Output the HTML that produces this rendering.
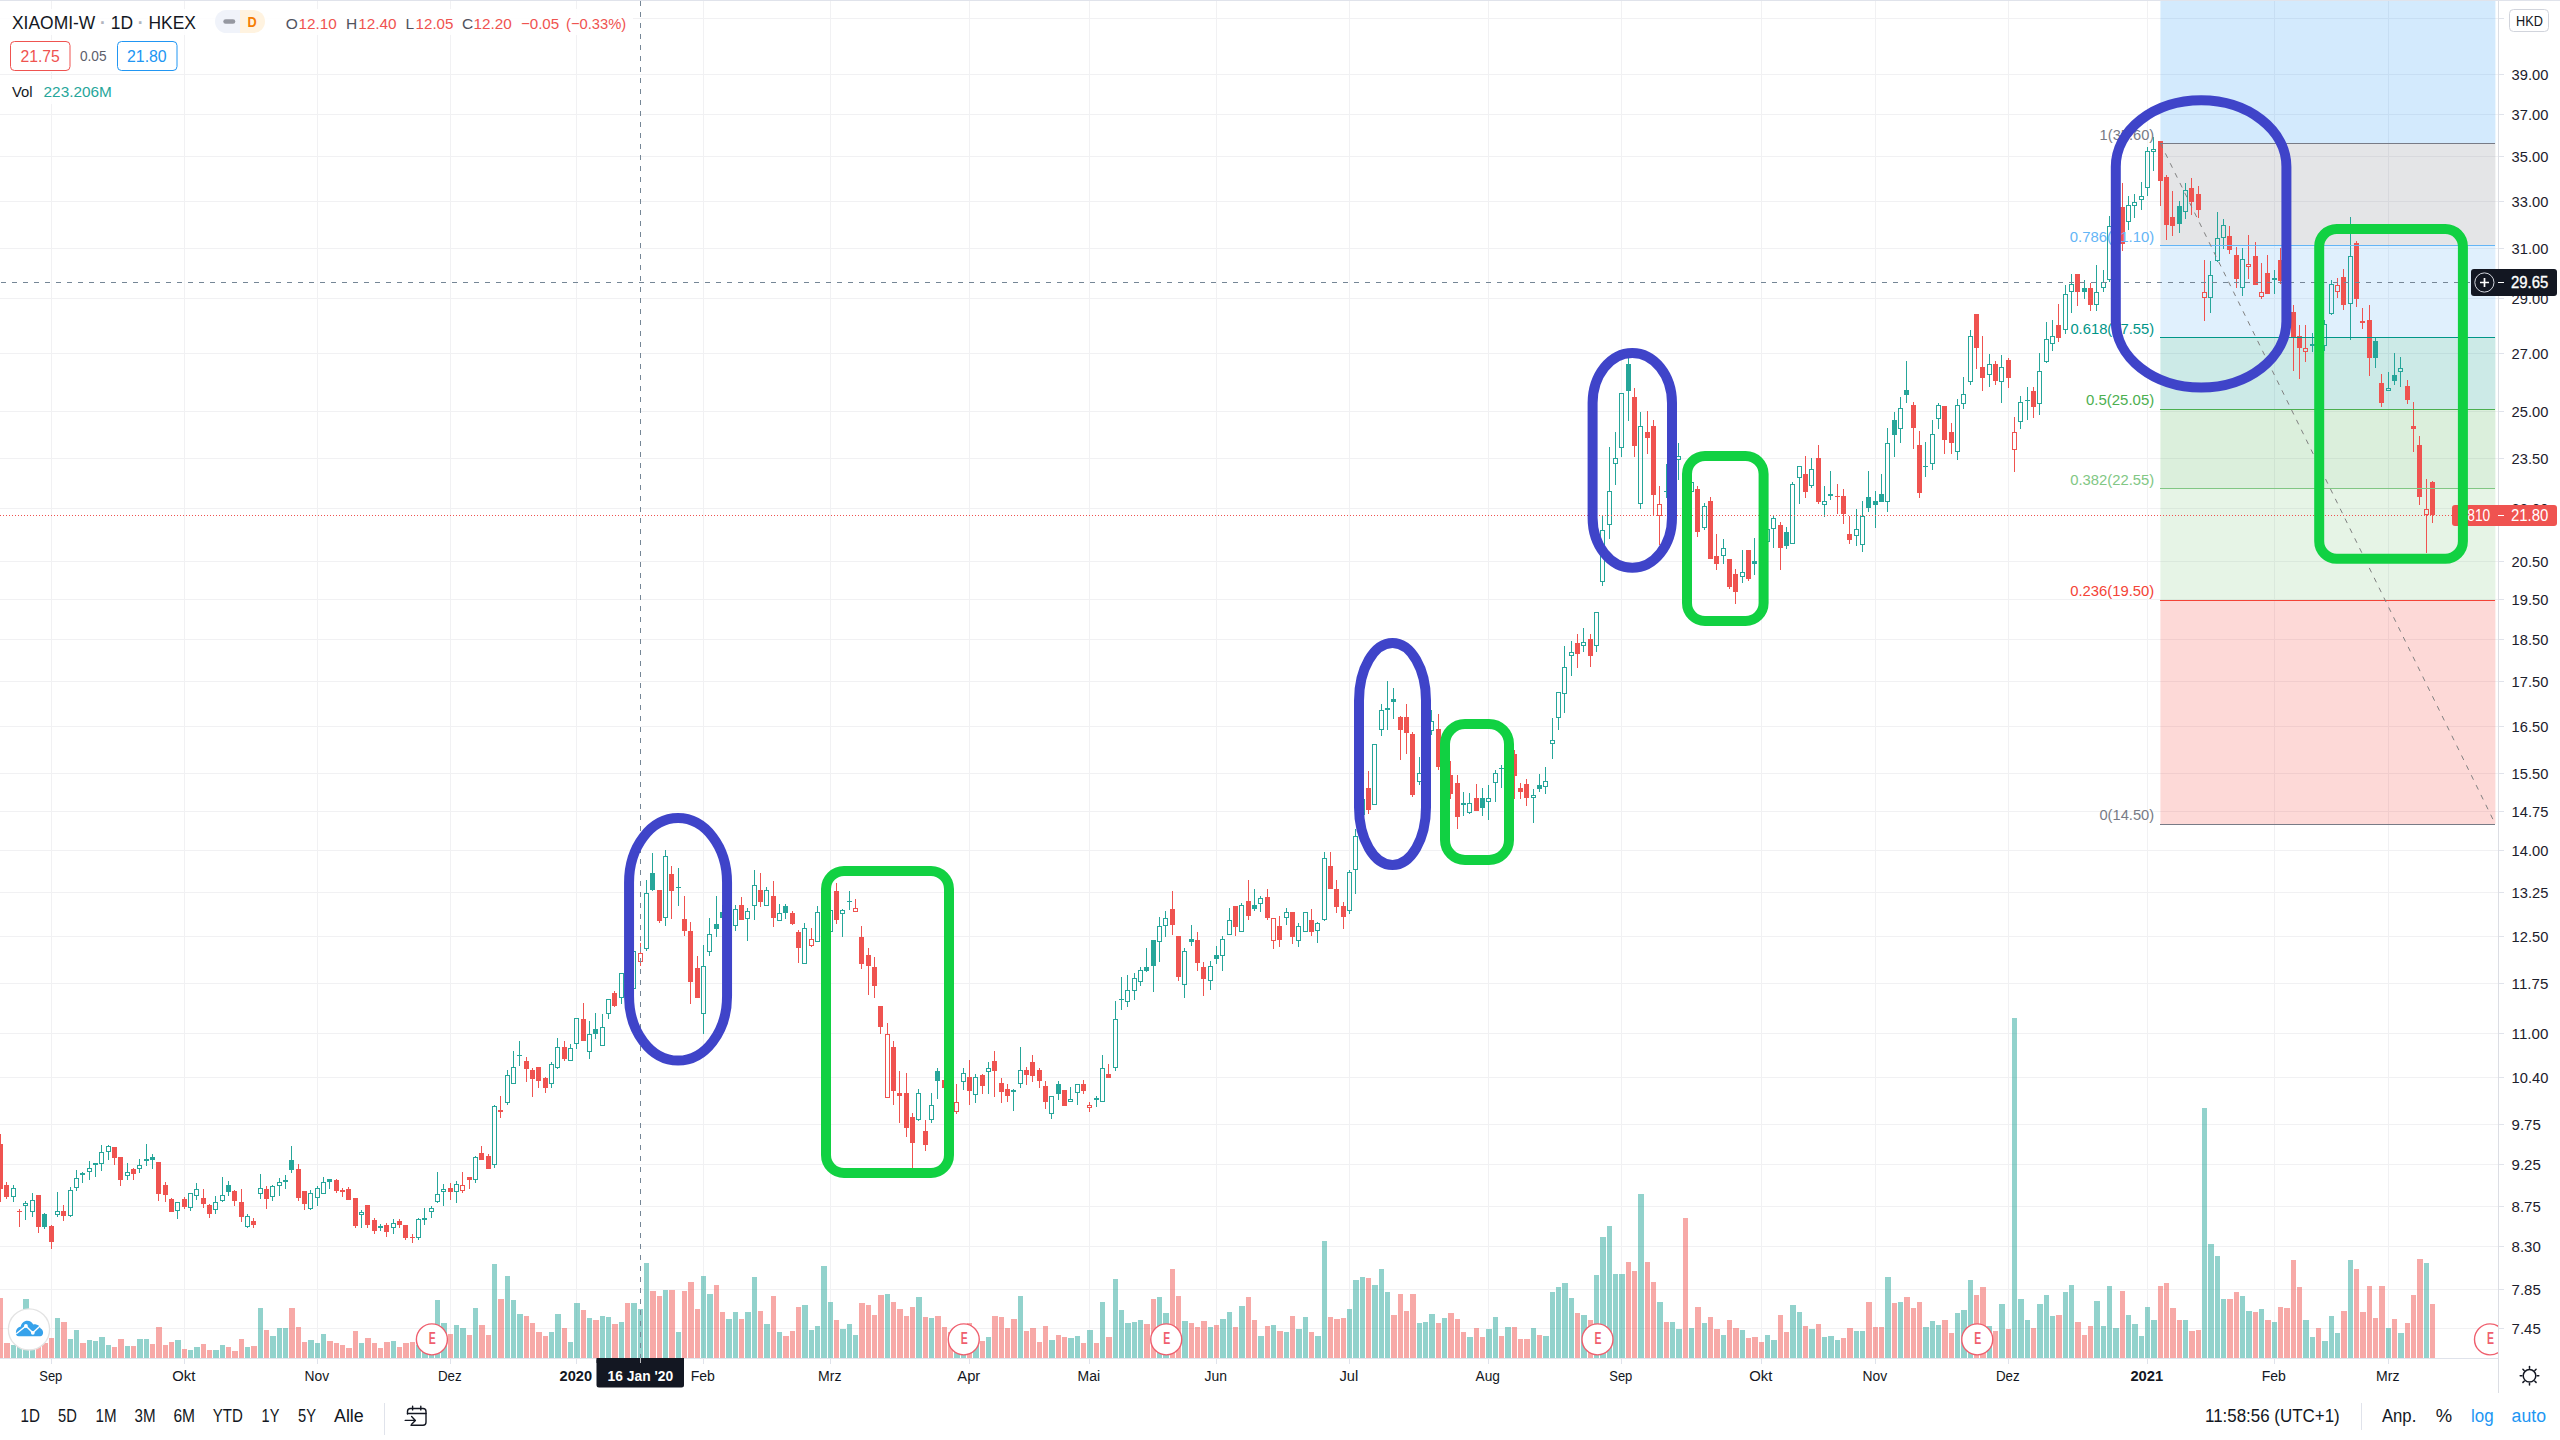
<!DOCTYPE html>
<html lang="de"><head><meta charset="utf-8"><title>XIAOMI-W 1D HKEX</title>
<style>html,body{margin:0;padding:0;background:#fff;overflow:hidden}body{width:2560px;height:1440px;font-family:"Liberation Sans",sans-serif}</style></head>
<body>
<svg width="2560" height="1440" viewBox="0 0 2560 1440" font-family='"Liberation Sans", sans-serif' style="display:block">
<defs><clipPath id="plot"><rect x="0" y="1" width="2498" height="1357"/></clipPath></defs>
<rect width="2560" height="1440" fill="#fff"/>
<g shape-rendering="crispEdges" fill="#f1f1f3">
<rect x="0" y="18" width="2498" height="1"/>
<rect x="0" y="74" width="2498" height="1"/>
<rect x="0" y="114" width="2498" height="1"/>
<rect x="0" y="156" width="2498" height="1"/>
<rect x="0" y="201" width="2498" height="1"/>
<rect x="0" y="248" width="2498" height="1"/>
<rect x="0" y="298" width="2498" height="1"/>
<rect x="0" y="353" width="2498" height="1"/>
<rect x="0" y="411" width="2498" height="1"/>
<rect x="0" y="458" width="2498" height="1"/>
<rect x="0" y="508" width="2498" height="1"/>
<rect x="0" y="561" width="2498" height="1"/>
<rect x="0" y="599" width="2498" height="1"/>
<rect x="0" y="639" width="2498" height="1"/>
<rect x="0" y="681" width="2498" height="1"/>
<rect x="0" y="726" width="2498" height="1"/>
<rect x="0" y="773" width="2498" height="1"/>
<rect x="0" y="811" width="2498" height="1"/>
<rect x="0" y="850" width="2498" height="1"/>
<rect x="0" y="892" width="2498" height="1"/>
<rect x="0" y="936" width="2498" height="1"/>
<rect x="0" y="983" width="2498" height="1"/>
<rect x="0" y="1033" width="2498" height="1"/>
<rect x="0" y="1077" width="2498" height="1"/>
<rect x="0" y="1124" width="2498" height="1"/>
<rect x="0" y="1164" width="2498" height="1"/>
<rect x="0" y="1206" width="2498" height="1"/>
<rect x="0" y="1246" width="2498" height="1"/>
<rect x="0" y="1289" width="2498" height="1"/>
<rect x="0" y="1328" width="2498" height="1"/>
<rect x="51" y="1" width="1" height="1357"/>
<rect x="184" y="1" width="1" height="1357"/>
<rect x="317" y="1" width="1" height="1357"/>
<rect x="450" y="1" width="1" height="1357"/>
<rect x="576" y="1" width="1" height="1357"/>
<rect x="703" y="1" width="1" height="1357"/>
<rect x="830" y="1" width="1" height="1357"/>
<rect x="969" y="1" width="1" height="1357"/>
<rect x="1089" y="1" width="1" height="1357"/>
<rect x="1216" y="1" width="1" height="1357"/>
<rect x="1349" y="1" width="1" height="1357"/>
<rect x="1488" y="1" width="1" height="1357"/>
<rect x="1621" y="1" width="1" height="1357"/>
<rect x="1761" y="1" width="1" height="1357"/>
<rect x="1875" y="1" width="1" height="1357"/>
<rect x="2008" y="1" width="1" height="1357"/>
<rect x="2147" y="1" width="1" height="1357"/>
<rect x="2274" y="1" width="1" height="1357"/>
<rect x="2388" y="1" width="1" height="1357"/>
</g>
<g shape-rendering="crispEdges" fill="#e0e3eb">
<rect x="0" y="0" width="2560" height="1"/>
<rect x="2498" y="1" width="1" height="1392" fill="#dcdee4"/>
<rect x="0" y="1358" width="2498" height="1"/>
<rect x="2499" y="18" width="5" height="1"/>
<rect x="2499" y="74" width="5" height="1"/>
<rect x="2499" y="114" width="5" height="1"/>
<rect x="2499" y="156" width="5" height="1"/>
<rect x="2499" y="201" width="5" height="1"/>
<rect x="2499" y="248" width="5" height="1"/>
<rect x="2499" y="298" width="5" height="1"/>
<rect x="2499" y="353" width="5" height="1"/>
<rect x="2499" y="411" width="5" height="1"/>
<rect x="2499" y="458" width="5" height="1"/>
<rect x="2499" y="508" width="5" height="1"/>
<rect x="2499" y="561" width="5" height="1"/>
<rect x="2499" y="599" width="5" height="1"/>
<rect x="2499" y="639" width="5" height="1"/>
<rect x="2499" y="681" width="5" height="1"/>
<rect x="2499" y="726" width="5" height="1"/>
<rect x="2499" y="773" width="5" height="1"/>
<rect x="2499" y="811" width="5" height="1"/>
<rect x="2499" y="850" width="5" height="1"/>
<rect x="2499" y="892" width="5" height="1"/>
<rect x="2499" y="936" width="5" height="1"/>
<rect x="2499" y="983" width="5" height="1"/>
<rect x="2499" y="1033" width="5" height="1"/>
<rect x="2499" y="1077" width="5" height="1"/>
<rect x="2499" y="1124" width="5" height="1"/>
<rect x="2499" y="1164" width="5" height="1"/>
<rect x="2499" y="1206" width="5" height="1"/>
<rect x="2499" y="1246" width="5" height="1"/>
<rect x="2499" y="1289" width="5" height="1"/>
<rect x="2499" y="1328" width="5" height="1"/>
<rect x="51" y="1359" width="1" height="5"/>
<rect x="184" y="1359" width="1" height="5"/>
<rect x="317" y="1359" width="1" height="5"/>
<rect x="450" y="1359" width="1" height="5"/>
<rect x="576" y="1359" width="1" height="5"/>
<rect x="703" y="1359" width="1" height="5"/>
<rect x="830" y="1359" width="1" height="5"/>
<rect x="969" y="1359" width="1" height="5"/>
<rect x="1089" y="1359" width="1" height="5"/>
<rect x="1216" y="1359" width="1" height="5"/>
<rect x="1349" y="1359" width="1" height="5"/>
<rect x="1488" y="1359" width="1" height="5"/>
<rect x="1621" y="1359" width="1" height="5"/>
<rect x="1761" y="1359" width="1" height="5"/>
<rect x="1875" y="1359" width="1" height="5"/>
<rect x="2008" y="1359" width="1" height="5"/>
<rect x="2147" y="1359" width="1" height="5"/>
<rect x="2274" y="1359" width="1" height="5"/>
<rect x="2388" y="1359" width="1" height="5"/>
</g>
<text x="2511.6" y="80.1" font-size="15.5" fill="#1c202c" textLength="36.7" lengthAdjust="spacingAndGlyphs">39.00</text>
<text x="2511.6" y="120.1" font-size="15.5" fill="#1c202c" textLength="36.7" lengthAdjust="spacingAndGlyphs">37.00</text>
<text x="2511.6" y="162.1" font-size="15.5" fill="#1c202c" textLength="36.7" lengthAdjust="spacingAndGlyphs">35.00</text>
<text x="2511.6" y="207.1" font-size="15.5" fill="#1c202c" textLength="36.7" lengthAdjust="spacingAndGlyphs">33.00</text>
<text x="2511.6" y="254.1" font-size="15.5" fill="#1c202c" textLength="36.7" lengthAdjust="spacingAndGlyphs">31.00</text>
<text x="2511.6" y="304.1" font-size="15.5" fill="#1c202c" textLength="36.7" lengthAdjust="spacingAndGlyphs">29.00</text>
<text x="2511.6" y="359.1" font-size="15.5" fill="#1c202c" textLength="36.7" lengthAdjust="spacingAndGlyphs">27.00</text>
<text x="2511.6" y="417.1" font-size="15.5" fill="#1c202c" textLength="36.7" lengthAdjust="spacingAndGlyphs">25.00</text>
<text x="2511.6" y="464.1" font-size="15.5" fill="#1c202c" textLength="36.7" lengthAdjust="spacingAndGlyphs">23.50</text>
<text x="2511.6" y="514.1" font-size="15.5" fill="#1c202c" textLength="36.7" lengthAdjust="spacingAndGlyphs">22.00</text>
<text x="2511.6" y="567.1" font-size="15.5" fill="#1c202c" textLength="36.7" lengthAdjust="spacingAndGlyphs">20.50</text>
<text x="2511.6" y="605.1" font-size="15.5" fill="#1c202c" textLength="36.7" lengthAdjust="spacingAndGlyphs">19.50</text>
<text x="2511.6" y="645.1" font-size="15.5" fill="#1c202c" textLength="36.7" lengthAdjust="spacingAndGlyphs">18.50</text>
<text x="2511.6" y="687.1" font-size="15.5" fill="#1c202c" textLength="36.7" lengthAdjust="spacingAndGlyphs">17.50</text>
<text x="2511.6" y="732.1" font-size="15.5" fill="#1c202c" textLength="36.7" lengthAdjust="spacingAndGlyphs">16.50</text>
<text x="2511.6" y="779.1" font-size="15.5" fill="#1c202c" textLength="36.7" lengthAdjust="spacingAndGlyphs">15.50</text>
<text x="2511.6" y="817.1" font-size="15.5" fill="#1c202c" textLength="36.7" lengthAdjust="spacingAndGlyphs">14.75</text>
<text x="2511.6" y="856.1" font-size="15.5" fill="#1c202c" textLength="36.7" lengthAdjust="spacingAndGlyphs">14.00</text>
<text x="2511.6" y="898.1" font-size="15.5" fill="#1c202c" textLength="36.7" lengthAdjust="spacingAndGlyphs">13.25</text>
<text x="2511.6" y="942.1" font-size="15.5" fill="#1c202c" textLength="36.7" lengthAdjust="spacingAndGlyphs">12.50</text>
<text x="2511.6" y="989.1" font-size="15.5" fill="#1c202c" textLength="36.7" lengthAdjust="spacingAndGlyphs">11.75</text>
<text x="2511.6" y="1039.1" font-size="15.5" fill="#1c202c" textLength="36.7" lengthAdjust="spacingAndGlyphs">11.00</text>
<text x="2511.6" y="1083.1" font-size="15.5" fill="#1c202c" textLength="36.7" lengthAdjust="spacingAndGlyphs">10.40</text>
<text x="2511.6" y="1130.1" font-size="15.5" fill="#1c202c" textLength="29.2" lengthAdjust="spacingAndGlyphs">9.75</text>
<text x="2511.6" y="1170.1" font-size="15.5" fill="#1c202c" textLength="29.2" lengthAdjust="spacingAndGlyphs">9.25</text>
<text x="2511.6" y="1212.1" font-size="15.5" fill="#1c202c" textLength="29.2" lengthAdjust="spacingAndGlyphs">8.75</text>
<text x="2511.6" y="1252.1" font-size="15.5" fill="#1c202c" textLength="29.2" lengthAdjust="spacingAndGlyphs">8.30</text>
<text x="2511.6" y="1295.1" font-size="15.5" fill="#1c202c" textLength="29.2" lengthAdjust="spacingAndGlyphs">7.85</text>
<text x="2511.6" y="1334.1" font-size="15.5" fill="#1c202c" textLength="29.2" lengthAdjust="spacingAndGlyphs">7.45</text>
<text x="39.25" y="1381.0" font-size="15.2" fill="#131722" textLength="23.1" lengthAdjust="spacingAndGlyphs">Sep</text>
<text x="172.25" y="1381.0" font-size="15.2" fill="#131722" textLength="23.1" lengthAdjust="spacingAndGlyphs">Okt</text>
<text x="304.5" y="1381.0" font-size="15.2" fill="#131722" textLength="24.6" lengthAdjust="spacingAndGlyphs">Nov</text>
<text x="437.93" y="1381.0" font-size="15.2" fill="#131722" textLength="23.75" lengthAdjust="spacingAndGlyphs">Dez</text>
<text x="559.55" y="1381.0" font-size="15.2" fill="#131722" font-weight="bold" textLength="32.5" lengthAdjust="spacingAndGlyphs">2020</text>
<text x="690.7" y="1381.0" font-size="15.2" fill="#131722" textLength="24.2" lengthAdjust="spacingAndGlyphs">Feb</text>
<text x="818.1" y="1381.0" font-size="15.2" fill="#131722" textLength="23.4" lengthAdjust="spacingAndGlyphs">Mrz</text>
<text x="957.3" y="1381.0" font-size="15.2" fill="#131722" textLength="23" lengthAdjust="spacingAndGlyphs">Apr</text>
<text x="1077.55" y="1381.0" font-size="15.2" fill="#131722" textLength="22.5" lengthAdjust="spacingAndGlyphs">Mai</text>
<text x="1204.55" y="1381.0" font-size="15.2" fill="#131722" textLength="22.5" lengthAdjust="spacingAndGlyphs">Jun</text>
<text x="1339.42" y="1381.0" font-size="15.2" fill="#131722" textLength="18.75" lengthAdjust="spacingAndGlyphs">Jul</text>
<text x="1475.6" y="1381.0" font-size="15.2" fill="#131722" textLength="24.4" lengthAdjust="spacingAndGlyphs">Aug</text>
<text x="1609.25" y="1381.0" font-size="15.2" fill="#131722" textLength="23.1" lengthAdjust="spacingAndGlyphs">Sep</text>
<text x="1749.25" y="1381.0" font-size="15.2" fill="#131722" textLength="23.1" lengthAdjust="spacingAndGlyphs">Okt</text>
<text x="1862.5" y="1381.0" font-size="15.2" fill="#131722" textLength="24.6" lengthAdjust="spacingAndGlyphs">Nov</text>
<text x="1995.92" y="1381.0" font-size="15.2" fill="#131722" textLength="23.75" lengthAdjust="spacingAndGlyphs">Dez</text>
<text x="2130.4" y="1381.0" font-size="15.2" fill="#131722" font-weight="bold" textLength="32.8" lengthAdjust="spacingAndGlyphs">2021</text>
<text x="2261.7" y="1381.0" font-size="15.2" fill="#131722" textLength="24.2" lengthAdjust="spacingAndGlyphs">Feb</text>
<text x="2376.1" y="1381.0" font-size="15.2" fill="#131722" textLength="23.4" lengthAdjust="spacingAndGlyphs">Mrz</text>
<g clip-path="url(#plot)">
<g shape-rendering="crispEdges">
<g fill="rgba(38,166,154,0.5)">
<rect x="11" y="1345" width="5" height="13"/>
<rect x="17" y="1345" width="5" height="13"/>
<rect x="23" y="1299" width="6" height="59"/>
<rect x="30" y="1345" width="5" height="13"/>
<rect x="55" y="1318" width="5" height="40"/>
<rect x="68" y="1339" width="5" height="19"/>
<rect x="74" y="1330" width="5" height="28"/>
<rect x="87" y="1340" width="5" height="18"/>
<rect x="93" y="1341" width="5" height="17"/>
<rect x="99" y="1337" width="6" height="21"/>
<rect x="106" y="1345" width="5" height="13"/>
<rect x="125" y="1346" width="5" height="12"/>
<rect x="137" y="1339" width="6" height="19"/>
<rect x="144" y="1339" width="5" height="19"/>
<rect x="175" y="1340" width="6" height="18"/>
<rect x="188" y="1350" width="5" height="8"/>
<rect x="194" y="1347" width="6" height="11"/>
<rect x="213" y="1350" width="6" height="8"/>
<rect x="220" y="1345" width="5" height="13"/>
<rect x="245" y="1347" width="5" height="11"/>
<rect x="258" y="1308" width="5" height="50"/>
<rect x="270" y="1336" width="6" height="22"/>
<rect x="277" y="1328" width="5" height="30"/>
<rect x="283" y="1328" width="5" height="30"/>
<rect x="308" y="1340" width="6" height="18"/>
<rect x="315" y="1343" width="5" height="15"/>
<rect x="321" y="1334" width="5" height="24"/>
<rect x="359" y="1343" width="5" height="15"/>
<rect x="391" y="1341" width="5" height="17"/>
<rect x="416" y="1345" width="5" height="13"/>
<rect x="422" y="1345" width="6" height="13"/>
<rect x="429" y="1345" width="5" height="13"/>
<rect x="435" y="1300" width="5" height="58"/>
<rect x="441" y="1323" width="6" height="35"/>
<rect x="454" y="1325" width="5" height="33"/>
<rect x="460" y="1328" width="6" height="30"/>
<rect x="473" y="1308" width="5" height="50"/>
<rect x="492" y="1264" width="5" height="94"/>
<rect x="505" y="1276" width="5" height="82"/>
<rect x="511" y="1300" width="5" height="58"/>
<rect x="517" y="1314" width="6" height="44"/>
<rect x="549" y="1332" width="5" height="26"/>
<rect x="555" y="1314" width="6" height="44"/>
<rect x="568" y="1342" width="5" height="16"/>
<rect x="574" y="1303" width="6" height="55"/>
<rect x="587" y="1318" width="5" height="40"/>
<rect x="600" y="1316" width="5" height="42"/>
<rect x="606" y="1317" width="5" height="41"/>
<rect x="619" y="1322" width="5" height="36"/>
<rect x="631" y="1303" width="6" height="55"/>
<rect x="638" y="1309" width="5" height="49"/>
<rect x="644" y="1263" width="5" height="95"/>
<rect x="663" y="1290" width="5" height="68"/>
<rect x="676" y="1332" width="5" height="26"/>
<rect x="701" y="1276" width="5" height="82"/>
<rect x="707" y="1294" width="6" height="64"/>
<rect x="726" y="1319" width="6" height="39"/>
<rect x="733" y="1312" width="5" height="46"/>
<rect x="745" y="1312" width="6" height="46"/>
<rect x="752" y="1277" width="5" height="81"/>
<rect x="764" y="1324" width="6" height="34"/>
<rect x="777" y="1332" width="5" height="26"/>
<rect x="802" y="1305" width="6" height="53"/>
<rect x="809" y="1330" width="5" height="28"/>
<rect x="815" y="1326" width="5" height="32"/>
<rect x="821" y="1266" width="6" height="92"/>
<rect x="828" y="1302" width="5" height="56"/>
<rect x="840" y="1329" width="6" height="29"/>
<rect x="847" y="1324" width="5" height="34"/>
<rect x="853" y="1335" width="5" height="23"/>
<rect x="885" y="1294" width="5" height="64"/>
<rect x="916" y="1297" width="6" height="61"/>
<rect x="929" y="1318" width="5" height="40"/>
<rect x="954" y="1332" width="6" height="26"/>
<rect x="961" y="1332" width="5" height="26"/>
<rect x="973" y="1338" width="6" height="20"/>
<rect x="986" y="1337" width="5" height="21"/>
<rect x="1018" y="1296" width="5" height="62"/>
<rect x="1049" y="1340" width="6" height="18"/>
<rect x="1068" y="1338" width="6" height="20"/>
<rect x="1075" y="1336" width="5" height="22"/>
<rect x="1087" y="1330" width="6" height="28"/>
<rect x="1100" y="1302" width="5" height="56"/>
<rect x="1113" y="1279" width="5" height="79"/>
<rect x="1119" y="1310" width="5" height="48"/>
<rect x="1125" y="1323" width="6" height="35"/>
<rect x="1132" y="1322" width="5" height="36"/>
<rect x="1138" y="1320" width="5" height="38"/>
<rect x="1157" y="1297" width="5" height="61"/>
<rect x="1163" y="1313" width="6" height="45"/>
<rect x="1182" y="1321" width="6" height="37"/>
<rect x="1208" y="1327" width="5" height="31"/>
<rect x="1220" y="1319" width="6" height="39"/>
<rect x="1227" y="1312" width="5" height="46"/>
<rect x="1239" y="1306" width="6" height="52"/>
<rect x="1258" y="1336" width="6" height="22"/>
<rect x="1271" y="1325" width="5" height="33"/>
<rect x="1284" y="1332" width="5" height="26"/>
<rect x="1296" y="1329" width="6" height="29"/>
<rect x="1303" y="1317" width="5" height="41"/>
<rect x="1315" y="1336" width="6" height="22"/>
<rect x="1322" y="1241" width="5" height="117"/>
<rect x="1347" y="1309" width="5" height="49"/>
<rect x="1353" y="1280" width="6" height="78"/>
<rect x="1360" y="1277" width="5" height="81"/>
<rect x="1372" y="1285" width="6" height="73"/>
<rect x="1379" y="1269" width="5" height="89"/>
<rect x="1385" y="1292" width="5" height="66"/>
<rect x="1417" y="1323" width="5" height="35"/>
<rect x="1423" y="1322" width="5" height="36"/>
<rect x="1429" y="1314" width="6" height="44"/>
<rect x="1442" y="1318" width="5" height="40"/>
<rect x="1467" y="1337" width="6" height="21"/>
<rect x="1486" y="1329" width="6" height="29"/>
<rect x="1493" y="1317" width="5" height="41"/>
<rect x="1505" y="1327" width="6" height="31"/>
<rect x="1531" y="1328" width="5" height="30"/>
<rect x="1543" y="1336" width="6" height="22"/>
<rect x="1550" y="1292" width="5" height="66"/>
<rect x="1556" y="1287" width="5" height="71"/>
<rect x="1562" y="1283" width="6" height="75"/>
<rect x="1569" y="1298" width="5" height="60"/>
<rect x="1581" y="1315" width="6" height="43"/>
<rect x="1594" y="1275" width="5" height="83"/>
<rect x="1600" y="1237" width="6" height="121"/>
<rect x="1607" y="1226" width="5" height="132"/>
<rect x="1613" y="1274" width="5" height="84"/>
<rect x="1619" y="1274" width="6" height="84"/>
<rect x="1638" y="1194" width="6" height="164"/>
<rect x="1657" y="1302" width="6" height="56"/>
<rect x="1670" y="1322" width="5" height="36"/>
<rect x="1676" y="1329" width="6" height="29"/>
<rect x="1689" y="1328" width="5" height="30"/>
<rect x="1702" y="1323" width="5" height="35"/>
<rect x="1721" y="1335" width="5" height="23"/>
<rect x="1740" y="1330" width="5" height="28"/>
<rect x="1765" y="1335" width="5" height="23"/>
<rect x="1771" y="1340" width="6" height="18"/>
<rect x="1790" y="1305" width="6" height="53"/>
<rect x="1797" y="1312" width="5" height="46"/>
<rect x="1809" y="1329" width="6" height="29"/>
<rect x="1822" y="1337" width="5" height="21"/>
<rect x="1828" y="1336" width="6" height="22"/>
<rect x="1835" y="1340" width="5" height="18"/>
<rect x="1854" y="1331" width="5" height="27"/>
<rect x="1860" y="1331" width="5" height="27"/>
<rect x="1885" y="1277" width="6" height="81"/>
<rect x="1898" y="1302" width="5" height="56"/>
<rect x="1923" y="1327" width="6" height="31"/>
<rect x="1930" y="1321" width="5" height="37"/>
<rect x="1936" y="1325" width="5" height="33"/>
<rect x="1955" y="1313" width="5" height="45"/>
<rect x="1961" y="1310" width="6" height="48"/>
<rect x="1968" y="1280" width="5" height="78"/>
<rect x="1987" y="1326" width="5" height="32"/>
<rect x="1999" y="1304" width="6" height="54"/>
<rect x="2012" y="1018" width="5" height="340"/>
<rect x="2018" y="1299" width="6" height="59"/>
<rect x="2025" y="1320" width="5" height="38"/>
<rect x="2037" y="1304" width="6" height="54"/>
<rect x="2044" y="1295" width="5" height="63"/>
<rect x="2050" y="1316" width="5" height="42"/>
<rect x="2063" y="1292" width="5" height="66"/>
<rect x="2069" y="1285" width="5" height="73"/>
<rect x="2094" y="1301" width="6" height="57"/>
<rect x="2101" y="1326" width="5" height="32"/>
<rect x="2107" y="1286" width="5" height="72"/>
<rect x="2113" y="1328" width="6" height="30"/>
<rect x="2126" y="1315" width="5" height="43"/>
<rect x="2132" y="1324" width="6" height="34"/>
<rect x="2139" y="1336" width="5" height="22"/>
<rect x="2145" y="1307" width="5" height="51"/>
<rect x="2151" y="1320" width="6" height="38"/>
<rect x="2183" y="1320" width="5" height="38"/>
<rect x="2202" y="1108" width="5" height="250"/>
<rect x="2208" y="1244" width="6" height="114"/>
<rect x="2215" y="1256" width="5" height="102"/>
<rect x="2221" y="1299" width="5" height="59"/>
<rect x="2240" y="1296" width="5" height="62"/>
<rect x="2246" y="1311" width="6" height="47"/>
<rect x="2259" y="1309" width="5" height="49"/>
<rect x="2272" y="1322" width="5" height="36"/>
<rect x="2303" y="1320" width="6" height="38"/>
<rect x="2310" y="1337" width="5" height="21"/>
<rect x="2322" y="1341" width="6" height="17"/>
<rect x="2329" y="1316" width="5" height="42"/>
<rect x="2335" y="1333" width="5" height="25"/>
<rect x="2348" y="1260" width="5" height="98"/>
<rect x="2386" y="1328" width="5" height="30"/>
<rect x="2398" y="1333" width="6" height="25"/>
<rect x="2424" y="1263" width="5" height="95"/>
</g>
<g fill="rgba(239,83,80,0.5)">
<rect x="-2" y="1298" width="5" height="60"/>
<rect x="4" y="1343" width="6" height="15"/>
<rect x="36" y="1345" width="5" height="13"/>
<rect x="42" y="1343" width="6" height="15"/>
<rect x="49" y="1338" width="5" height="20"/>
<rect x="61" y="1322" width="6" height="36"/>
<rect x="80" y="1343" width="6" height="15"/>
<rect x="112" y="1347" width="5" height="11"/>
<rect x="118" y="1339" width="6" height="19"/>
<rect x="131" y="1346" width="5" height="12"/>
<rect x="150" y="1344" width="5" height="14"/>
<rect x="156" y="1327" width="6" height="31"/>
<rect x="163" y="1345" width="5" height="13"/>
<rect x="169" y="1342" width="5" height="16"/>
<rect x="182" y="1349" width="5" height="9"/>
<rect x="201" y="1344" width="5" height="14"/>
<rect x="207" y="1350" width="5" height="8"/>
<rect x="226" y="1347" width="5" height="11"/>
<rect x="232" y="1351" width="6" height="7"/>
<rect x="239" y="1339" width="5" height="19"/>
<rect x="251" y="1346" width="6" height="12"/>
<rect x="264" y="1330" width="5" height="28"/>
<rect x="289" y="1308" width="6" height="50"/>
<rect x="296" y="1327" width="5" height="31"/>
<rect x="302" y="1342" width="5" height="16"/>
<rect x="327" y="1341" width="6" height="17"/>
<rect x="334" y="1343" width="5" height="15"/>
<rect x="340" y="1345" width="5" height="13"/>
<rect x="346" y="1348" width="6" height="10"/>
<rect x="353" y="1331" width="5" height="27"/>
<rect x="365" y="1338" width="6" height="20"/>
<rect x="372" y="1343" width="5" height="15"/>
<rect x="378" y="1348" width="5" height="10"/>
<rect x="384" y="1342" width="6" height="16"/>
<rect x="397" y="1347" width="5" height="11"/>
<rect x="403" y="1343" width="6" height="15"/>
<rect x="410" y="1342" width="5" height="16"/>
<rect x="448" y="1334" width="5" height="24"/>
<rect x="467" y="1335" width="5" height="23"/>
<rect x="479" y="1325" width="6" height="33"/>
<rect x="486" y="1335" width="5" height="23"/>
<rect x="498" y="1299" width="6" height="59"/>
<rect x="524" y="1316" width="5" height="42"/>
<rect x="530" y="1323" width="5" height="35"/>
<rect x="536" y="1332" width="6" height="26"/>
<rect x="543" y="1336" width="5" height="22"/>
<rect x="562" y="1328" width="5" height="30"/>
<rect x="581" y="1310" width="5" height="48"/>
<rect x="593" y="1320" width="6" height="38"/>
<rect x="612" y="1324" width="6" height="34"/>
<rect x="625" y="1303" width="5" height="55"/>
<rect x="650" y="1291" width="6" height="67"/>
<rect x="657" y="1296" width="5" height="62"/>
<rect x="669" y="1290" width="6" height="68"/>
<rect x="682" y="1291" width="5" height="67"/>
<rect x="688" y="1282" width="6" height="76"/>
<rect x="695" y="1309" width="5" height="49"/>
<rect x="714" y="1285" width="5" height="73"/>
<rect x="720" y="1312" width="5" height="46"/>
<rect x="739" y="1319" width="5" height="39"/>
<rect x="758" y="1311" width="5" height="47"/>
<rect x="771" y="1296" width="5" height="62"/>
<rect x="783" y="1336" width="6" height="22"/>
<rect x="790" y="1331" width="5" height="27"/>
<rect x="796" y="1307" width="5" height="51"/>
<rect x="834" y="1320" width="5" height="38"/>
<rect x="859" y="1303" width="6" height="55"/>
<rect x="866" y="1305" width="5" height="53"/>
<rect x="872" y="1315" width="5" height="43"/>
<rect x="878" y="1295" width="6" height="63"/>
<rect x="891" y="1302" width="5" height="56"/>
<rect x="897" y="1309" width="6" height="49"/>
<rect x="904" y="1316" width="5" height="42"/>
<rect x="910" y="1307" width="5" height="51"/>
<rect x="923" y="1317" width="5" height="41"/>
<rect x="935" y="1316" width="6" height="42"/>
<rect x="942" y="1327" width="5" height="31"/>
<rect x="948" y="1332" width="5" height="26"/>
<rect x="967" y="1323" width="5" height="35"/>
<rect x="980" y="1341" width="5" height="17"/>
<rect x="992" y="1316" width="6" height="42"/>
<rect x="999" y="1317" width="5" height="41"/>
<rect x="1005" y="1328" width="5" height="30"/>
<rect x="1011" y="1319" width="6" height="39"/>
<rect x="1024" y="1331" width="5" height="27"/>
<rect x="1030" y="1328" width="6" height="30"/>
<rect x="1037" y="1342" width="5" height="16"/>
<rect x="1043" y="1326" width="5" height="32"/>
<rect x="1056" y="1335" width="5" height="23"/>
<rect x="1062" y="1337" width="5" height="21"/>
<rect x="1081" y="1343" width="5" height="15"/>
<rect x="1094" y="1343" width="5" height="15"/>
<rect x="1106" y="1337" width="6" height="21"/>
<rect x="1144" y="1324" width="6" height="34"/>
<rect x="1151" y="1299" width="5" height="59"/>
<rect x="1170" y="1269" width="5" height="89"/>
<rect x="1176" y="1296" width="5" height="62"/>
<rect x="1189" y="1323" width="5" height="35"/>
<rect x="1195" y="1327" width="5" height="31"/>
<rect x="1201" y="1321" width="6" height="37"/>
<rect x="1214" y="1325" width="5" height="33"/>
<rect x="1233" y="1327" width="5" height="31"/>
<rect x="1246" y="1297" width="5" height="61"/>
<rect x="1252" y="1320" width="5" height="38"/>
<rect x="1265" y="1326" width="5" height="32"/>
<rect x="1277" y="1331" width="6" height="27"/>
<rect x="1290" y="1316" width="5" height="42"/>
<rect x="1309" y="1332" width="5" height="26"/>
<rect x="1328" y="1317" width="5" height="41"/>
<rect x="1334" y="1319" width="6" height="39"/>
<rect x="1341" y="1318" width="5" height="40"/>
<rect x="1366" y="1278" width="5" height="80"/>
<rect x="1391" y="1315" width="6" height="43"/>
<rect x="1398" y="1294" width="5" height="64"/>
<rect x="1404" y="1311" width="5" height="47"/>
<rect x="1410" y="1294" width="6" height="64"/>
<rect x="1436" y="1323" width="5" height="35"/>
<rect x="1448" y="1313" width="6" height="45"/>
<rect x="1455" y="1319" width="5" height="39"/>
<rect x="1461" y="1332" width="5" height="26"/>
<rect x="1474" y="1328" width="5" height="30"/>
<rect x="1480" y="1337" width="5" height="21"/>
<rect x="1499" y="1336" width="5" height="22"/>
<rect x="1512" y="1327" width="5" height="31"/>
<rect x="1518" y="1339" width="5" height="19"/>
<rect x="1524" y="1339" width="6" height="19"/>
<rect x="1537" y="1335" width="5" height="23"/>
<rect x="1575" y="1313" width="5" height="45"/>
<rect x="1588" y="1320" width="5" height="38"/>
<rect x="1626" y="1262" width="5" height="96"/>
<rect x="1632" y="1271" width="5" height="87"/>
<rect x="1645" y="1262" width="5" height="96"/>
<rect x="1651" y="1282" width="5" height="76"/>
<rect x="1664" y="1322" width="5" height="36"/>
<rect x="1683" y="1218" width="5" height="140"/>
<rect x="1695" y="1307" width="6" height="51"/>
<rect x="1708" y="1317" width="5" height="41"/>
<rect x="1714" y="1329" width="6" height="29"/>
<rect x="1727" y="1320" width="5" height="38"/>
<rect x="1733" y="1328" width="6" height="30"/>
<rect x="1746" y="1338" width="5" height="20"/>
<rect x="1752" y="1337" width="6" height="21"/>
<rect x="1759" y="1342" width="5" height="16"/>
<rect x="1778" y="1315" width="5" height="43"/>
<rect x="1784" y="1332" width="5" height="26"/>
<rect x="1803" y="1326" width="5" height="32"/>
<rect x="1816" y="1324" width="5" height="34"/>
<rect x="1841" y="1338" width="5" height="20"/>
<rect x="1847" y="1328" width="6" height="30"/>
<rect x="1866" y="1302" width="6" height="56"/>
<rect x="1873" y="1327" width="5" height="31"/>
<rect x="1879" y="1327" width="5" height="31"/>
<rect x="1892" y="1303" width="5" height="55"/>
<rect x="1904" y="1297" width="6" height="61"/>
<rect x="1911" y="1308" width="5" height="50"/>
<rect x="1917" y="1302" width="5" height="56"/>
<rect x="1942" y="1320" width="6" height="38"/>
<rect x="1949" y="1333" width="5" height="25"/>
<rect x="1974" y="1295" width="5" height="63"/>
<rect x="1980" y="1287" width="6" height="71"/>
<rect x="1993" y="1331" width="5" height="27"/>
<rect x="2006" y="1329" width="5" height="29"/>
<rect x="2031" y="1328" width="5" height="30"/>
<rect x="2056" y="1315" width="6" height="43"/>
<rect x="2075" y="1322" width="6" height="36"/>
<rect x="2082" y="1335" width="5" height="23"/>
<rect x="2088" y="1326" width="5" height="32"/>
<rect x="2120" y="1291" width="5" height="67"/>
<rect x="2158" y="1286" width="5" height="72"/>
<rect x="2164" y="1283" width="5" height="75"/>
<rect x="2170" y="1308" width="6" height="50"/>
<rect x="2177" y="1320" width="5" height="38"/>
<rect x="2189" y="1331" width="6" height="27"/>
<rect x="2196" y="1330" width="5" height="28"/>
<rect x="2227" y="1299" width="6" height="59"/>
<rect x="2234" y="1292" width="5" height="66"/>
<rect x="2253" y="1312" width="5" height="46"/>
<rect x="2265" y="1320" width="6" height="38"/>
<rect x="2278" y="1307" width="5" height="51"/>
<rect x="2284" y="1308" width="6" height="50"/>
<rect x="2291" y="1260" width="5" height="98"/>
<rect x="2297" y="1287" width="5" height="71"/>
<rect x="2316" y="1328" width="5" height="30"/>
<rect x="2341" y="1311" width="6" height="47"/>
<rect x="2354" y="1269" width="5" height="89"/>
<rect x="2360" y="1312" width="6" height="46"/>
<rect x="2367" y="1286" width="5" height="72"/>
<rect x="2373" y="1318" width="5" height="40"/>
<rect x="2379" y="1286" width="6" height="72"/>
<rect x="2392" y="1319" width="5" height="39"/>
<rect x="2405" y="1323" width="5" height="35"/>
<rect x="2411" y="1295" width="5" height="63"/>
<rect x="2417" y="1259" width="6" height="99"/>
<rect x="2430" y="1304" width="5" height="54"/>
</g>
</g>
<g>
<rect x="2160.4" y="1" width="335.0" height="142" fill="rgba(33,150,243,0.2)"/>
<rect x="2160.4" y="143" width="335.0" height="102" fill="rgba(120,123,134,0.2)"/>
<rect x="2160.4" y="245" width="335.0" height="92" fill="rgba(100,181,246,0.2)"/>
<rect x="2160.4" y="337" width="335.0" height="72" fill="rgba(0,150,136,0.2)"/>
<rect x="2160.4" y="409" width="335.0" height="79" fill="rgba(76,175,80,0.2)"/>
<rect x="2160.4" y="488" width="335.0" height="112" fill="rgba(129,199,132,0.2)"/>
<rect x="2160.4" y="600" width="335.0" height="224" fill="rgba(244,67,54,0.2)"/>
</g>
<g shape-rendering="crispEdges">
<path fill="#26a69a" fill-rule="evenodd" d="M11 1188h5v9h-5zM12 1189v7h3v-7zM13 1185h1v3h-1zM13 1197h1v5h-1zM23 1203h5v3h-5zM24 1204v1h3v-1zM25 1201h1v2h-1zM25 1206h1v14h-1zM30 1200h5v12h-5zM31 1201v10h3v-10zM32 1193h1v7h-1zM32 1212h1v5h-1zM42 1214h5v13h-5zM44 1213h1v1h-1zM44 1227h1v2h-1zM55 1211h5v4h-5zM56 1212v2h3v-2zM57 1192h1v19h-1zM57 1215h1v2h-1zM68 1190h5v26h-5zM69 1191v24h3v-24zM70 1187h1v3h-1zM70 1216h1v1h-1zM74 1178h5v10h-5zM75 1179v8h3v-8zM76 1170h1v8h-1zM76 1188h1v3h-1zM80 1173h5v2h-5zM82 1172h1v1h-1zM82 1175h1v8h-1zM87 1168h5v4h-5zM88 1169v2h3v-2zM89 1161h1v7h-1zM89 1172h1v8h-1zM93 1163h5v2h-5zM95 1165h1v12h-1zM99 1152h5v12h-5zM100 1153v10h3v-10zM101 1145h1v7h-1zM101 1164h1v7h-1zM106 1146h5v6h-5zM107 1147v4h3v-4zM108 1145h1v1h-1zM108 1152h1v8h-1zM125 1172h5v4h-5zM126 1173v2h3v-2zM127 1163h1v9h-1zM127 1176h1v4h-1zM137 1165h5v4h-5zM138 1166v2h3v-2zM139 1159h1v6h-1zM139 1169h1v4h-1zM144 1159h5v2h-5zM146 1144h1v15h-1zM146 1161h1v5h-1zM150 1157h5v3h-5zM152 1154h1v3h-1zM152 1160h1v9h-1zM175 1202h5v9h-5zM176 1203v7h3v-7zM177 1211h1v8h-1zM188 1193h5v15h-5zM189 1194v13h3v-13zM190 1208h1v3h-1zM194 1189h5v7h-5zM195 1190v5h3v-5zM196 1183h1v6h-1zM196 1196h1v4h-1zM213 1202h5v8h-5zM214 1203v6h3v-6zM215 1196h1v6h-1zM215 1210h1v4h-1zM220 1195h5v6h-5zM221 1196v4h3v-4zM222 1177h1v18h-1zM222 1201h1v1h-1zM226 1185h5v7h-5zM228 1181h1v4h-1zM228 1192h1v4h-1zM245 1216h5v11h-5zM246 1217v9h3v-9zM247 1214h1v2h-1zM247 1227h1v1h-1zM258 1188h5v6h-5zM259 1189v4h3v-4zM260 1174h1v14h-1zM260 1194h1v5h-1zM270 1186h5v11h-5zM271 1187v9h3v-9zM272 1185h1v1h-1zM272 1197h1v4h-1zM277 1182h5v4h-5zM278 1183v2h3v-2zM279 1178h1v4h-1zM279 1186h1v10h-1zM283 1180h5v2h-5zM285 1175h1v5h-1zM285 1182h1v7h-1zM289 1160h5v10h-5zM291 1146h1v14h-1zM291 1170h1v3h-1zM308 1193h5v16h-5zM309 1194v14h3v-14zM310 1190h1v3h-1zM310 1209h1v1h-1zM315 1188h5v10h-5zM316 1189v8h3v-8zM317 1186h1v2h-1zM317 1198h1v8h-1zM321 1182h5v12h-5zM322 1183v10h3v-10zM323 1177h1v5h-1zM327 1179h5v3h-5zM329 1182h1v7h-1zM359 1212h5v3h-5zM360 1213v1h3v-1zM361 1210h1v2h-1zM361 1215h1v13h-1zM378 1226h5v2h-5zM380 1224h1v2h-1zM380 1228h1v3h-1zM391 1223h5v5h-5zM392 1224v3h3v-3zM393 1219h1v4h-1zM393 1228h1v6h-1zM416 1219h5v19h-5zM417 1220v17h3v-17zM418 1218h1v1h-1zM418 1238h1v2h-1zM422 1218h5v2h-5zM424 1208h1v10h-1zM424 1220h1v5h-1zM429 1208h5v4h-5zM430 1209v2h3v-2zM431 1206h1v2h-1zM431 1212h1v6h-1zM435 1194h5v8h-5zM436 1195v6h3v-6zM437 1172h1v22h-1zM437 1202h1v1h-1zM441 1189h5v3h-5zM442 1190v1h3v-1zM443 1184h1v5h-1zM443 1192h1v14h-1zM454 1184h5v8h-5zM455 1185v6h3v-6zM456 1181h1v3h-1zM456 1192h1v11h-1zM473 1157h5v23h-5zM474 1158v21h3v-21zM475 1156h1v1h-1zM475 1180h1v3h-1zM492 1106h5v59h-5zM493 1107v57h3v-57zM494 1105h1v1h-1zM494 1165h1v3h-1zM505 1075h5v28h-5zM506 1076v26h3v-26zM507 1070h1v5h-1zM507 1103h1v2h-1zM511 1067h5v17h-5zM512 1068v15h3v-15zM513 1051h1v16h-1zM517 1055h5v1h-5zM519 1041h1v14h-1zM519 1056h1v10h-1zM549 1064h5v20h-5zM550 1065v18h3v-18zM551 1062h1v2h-1zM551 1084h1v4h-1zM555 1047h5v21h-5zM556 1048v19h3v-19zM557 1038h1v9h-1zM557 1068h1v1h-1zM568 1048h5v13h-5zM569 1049v11h3v-11zM570 1044h1v4h-1zM574 1018h5v26h-5zM575 1019v24h3v-24zM576 1044h1v5h-1zM587 1034h5v18h-5zM588 1035v16h3v-16zM589 1021h1v13h-1zM589 1052h1v7h-1zM593 1029h5v5h-5zM595 1013h1v16h-1zM595 1034h1v5h-1zM600 1027h5v19h-5zM601 1028v17h3v-17zM602 1014h1v13h-1zM606 999h5v15h-5zM607 1000v13h3v-13zM608 1014h1v5h-1zM619 973h5v25h-5zM620 974v23h3v-23zM621 998h1v6h-1zM631 951h5v38h-5zM632 952v36h3v-36zM633 950h1v1h-1zM633 989h1v1h-1zM644 893h5v56h-5zM645 894v54h3v-54zM646 880h1v13h-1zM646 949h1v2h-1zM650 873h5v17h-5zM652 853h1v20h-1zM652 890h1v1h-1zM663 856h5v62h-5zM664 857v60h3v-60zM665 850h1v6h-1zM665 918h1v8h-1zM676 887h5v1h-5zM678 868h1v19h-1zM678 888h1v18h-1zM701 966h5v48h-5zM702 967v46h3v-46zM703 945h1v21h-1zM703 1014h1v20h-1zM707 934h5v18h-5zM708 935v16h3v-16zM709 918h1v16h-1zM709 952h1v4h-1zM714 924h5v5h-5zM716 896h1v28h-1zM716 929h1v8h-1zM720 912h5v6h-5zM722 905h1v7h-1zM722 918h1v2h-1zM726 910h5v8h-5zM727 911v6h3v-6zM728 908h1v2h-1zM728 918h1v10h-1zM733 909h5v17h-5zM734 910v15h3v-15zM735 905h1v4h-1zM735 926h1v5h-1zM745 911h5v8h-5zM746 912v6h3v-6zM747 908h1v3h-1zM747 919h1v22h-1zM752 885h5v21h-5zM753 886v19h3v-19zM754 870h1v15h-1zM754 906h1v14h-1zM764 890h5v16h-5zM765 891v14h3v-14zM766 887h1v3h-1zM777 913h5v8h-5zM778 914v6h3v-6zM779 904h1v9h-1zM783 906h5v7h-5zM785 904h1v2h-1zM785 913h1v6h-1zM802 928h5v36h-5zM803 929v34h3v-34zM804 923h1v5h-1zM815 912h5v30h-5zM816 913v28h3v-28zM817 906h1v6h-1zM828 910h5v22h-5zM829 911v20h3v-20zM830 904h1v6h-1zM830 932h1v15h-1zM840 910h5v4h-5zM841 911v2h3v-2zM842 909h1v1h-1zM842 914h1v23h-1zM847 901h5v1h-5zM849 891h1v10h-1zM849 902h1v8h-1zM916 1093h5v27h-5zM917 1094v25h3v-25zM918 1089h1v4h-1zM918 1120h1v1h-1zM929 1105h5v15h-5zM930 1106v13h3v-13zM931 1093h1v12h-1zM931 1120h1v3h-1zM935 1071h5v10h-5zM937 1068h1v3h-1zM937 1081h1v18h-1zM961 1073h5v9h-5zM962 1074v7h3v-7zM963 1068h1v5h-1zM963 1082h1v8h-1zM973 1077h5v18h-5zM974 1078v16h3v-16zM975 1074h1v3h-1zM975 1095h1v8h-1zM986 1068h5v4h-5zM987 1069v2h3v-2zM988 1062h1v6h-1zM988 1072h1v22h-1zM1011 1090h5v2h-5zM1013 1089h1v1h-1zM1013 1092h1v19h-1zM1018 1070h5v14h-5zM1019 1071v12h3v-12zM1020 1047h1v23h-1zM1020 1084h1v4h-1zM1049 1096h5v18h-5zM1050 1097v16h3v-16zM1051 1114h1v5h-1zM1056 1084h5v10h-5zM1058 1081h1v3h-1zM1058 1094h1v6h-1zM1068 1099h5v3h-5zM1069 1100v1h3v-1zM1070 1087h1v12h-1zM1075 1084h5v9h-5zM1076 1085v7h3v-7zM1077 1093h1v12h-1zM1094 1098h5v2h-5zM1096 1096h1v2h-1zM1096 1100h1v7h-1zM1100 1068h5v34h-5zM1101 1069v32h3v-32zM1102 1055h1v13h-1zM1113 1019h5v49h-5zM1114 1020v47h3v-47zM1115 1001h1v18h-1zM1115 1068h1v3h-1zM1119 999h5v1h-5zM1121 977h1v22h-1zM1121 1000h1v10h-1zM1125 990h5v12h-5zM1126 991v10h3v-10zM1127 975h1v15h-1zM1127 1002h1v5h-1zM1132 978h5v13h-5zM1133 979v11h3v-11zM1134 973h1v5h-1zM1134 991h1v9h-1zM1138 970h5v12h-5zM1139 971v10h3v-10zM1140 967h1v3h-1zM1140 982h1v4h-1zM1144 967h5v4h-5zM1146 948h1v19h-1zM1146 971h1v1h-1zM1151 940h5v26h-5zM1153 966h1v26h-1zM1157 926h5v16h-5zM1158 927v14h3v-14zM1159 917h1v9h-1zM1159 942h1v20h-1zM1163 918h5v8h-5zM1164 919v6h3v-6zM1165 911h1v7h-1zM1165 926h1v11h-1zM1182 951h5v34h-5zM1183 952v32h3v-32zM1184 948h1v3h-1zM1184 985h1v13h-1zM1189 939h5v3h-5zM1191 925h1v14h-1zM1191 942h1v4h-1zM1208 966h5v15h-5zM1209 967v13h3v-13zM1210 961h1v5h-1zM1210 981h1v9h-1zM1214 955h5v4h-5zM1216 946h1v9h-1zM1216 959h1v5h-1zM1220 939h5v17h-5zM1221 940v15h3v-15zM1222 936h1v3h-1zM1222 956h1v15h-1zM1227 920h5v15h-5zM1228 921v13h3v-13zM1229 908h1v12h-1zM1239 905h5v27h-5zM1240 906v25h3v-25zM1241 903h1v2h-1zM1252 905h5v4h-5zM1254 889h1v16h-1zM1254 909h1v2h-1zM1258 898h5v6h-5zM1259 899v4h3v-4zM1260 896h1v2h-1zM1260 904h1v8h-1zM1284 912h5v6h-5zM1285 913v4h3v-4zM1286 908h1v4h-1zM1286 918h1v7h-1zM1296 926h5v15h-5zM1297 927v13h3v-13zM1298 923h1v3h-1zM1298 941h1v6h-1zM1303 912h5v20h-5zM1304 913v18h3v-18zM1315 923h5v8h-5zM1316 924v6h3v-6zM1317 922h1v1h-1zM1317 931h1v12h-1zM1322 858h5v62h-5zM1323 859v60h3v-60zM1324 852h1v6h-1zM1324 920h1v1h-1zM1347 872h5v39h-5zM1348 873v37h3v-37zM1349 870h1v2h-1zM1349 911h1v3h-1zM1353 836h5v34h-5zM1354 837v32h3v-32zM1355 829h1v7h-1zM1355 870h1v24h-1zM1360 799h5v16h-5zM1361 800v14h3v-14zM1362 798h1v1h-1zM1362 815h1v1h-1zM1372 744h5v61h-5zM1373 745v59h3v-59zM1379 710h5v20h-5zM1380 711v18h3v-18zM1381 704h1v6h-1zM1381 730h1v6h-1zM1385 708h5v2h-5zM1387 681h1v27h-1zM1387 710h1v20h-1zM1391 699h5v3h-5zM1393 688h1v11h-1zM1393 702h1v17h-1zM1417 773h5v9h-5zM1418 774v7h3v-7zM1419 757h1v16h-1zM1419 782h1v3h-1zM1423 732h5v40h-5zM1424 733v38h3v-38zM1425 730h1v2h-1zM1425 772h1v3h-1zM1429 721h5v10h-5zM1430 722v8h3v-8zM1431 710h1v11h-1zM1431 731h1v4h-1zM1461 803h5v2h-5zM1463 792h1v11h-1zM1463 805h1v11h-1zM1467 803h5v10h-5zM1468 804v8h3v-8zM1469 793h1v10h-1zM1469 813h1v1h-1zM1480 798h5v10h-5zM1482 788h1v10h-1zM1482 808h1v8h-1zM1486 798h5v4h-5zM1487 799v2h3v-2zM1488 785h1v13h-1zM1488 802h1v18h-1zM1493 773h5v10h-5zM1494 774v8h3v-8zM1495 770h1v3h-1zM1495 783h1v19h-1zM1499 768h5v1h-5zM1501 765h1v3h-1zM1501 769h1v19h-1zM1505 756h5v12h-5zM1506 757v10h3v-10zM1507 752h1v4h-1zM1507 768h1v2h-1zM1531 795h5v3h-5zM1532 796v1h3v-1zM1533 789h1v6h-1zM1533 798h1v25h-1zM1537 785h5v4h-5zM1539 774h1v11h-1zM1539 789h1v3h-1zM1543 781h5v6h-5zM1544 782v4h3v-4zM1545 767h1v14h-1zM1545 787h1v7h-1zM1550 740h5v4h-5zM1551 741v2h3v-2zM1552 718h1v22h-1zM1552 744h1v15h-1zM1556 692h5v26h-5zM1557 693v24h3v-24zM1558 718h1v12h-1zM1562 667h5v27h-5zM1563 668v25h3v-25zM1564 646h1v21h-1zM1564 694h1v19h-1zM1569 652h5v4h-5zM1570 653v2h3v-2zM1571 641h1v11h-1zM1571 656h1v20h-1zM1581 642h5v4h-5zM1582 643v2h3v-2zM1583 628h1v14h-1zM1583 646h1v6h-1zM1594 612h5v34h-5zM1595 613v32h3v-32zM1596 646h1v6h-1zM1600 530h5v52h-5zM1601 531v50h3v-50zM1602 516h1v14h-1zM1602 582h1v4h-1zM1607 491h5v34h-5zM1608 492v32h3v-32zM1609 447h1v44h-1zM1609 525h1v14h-1zM1613 458h5v6h-5zM1614 459v4h3v-4zM1615 432h1v26h-1zM1615 464h1v21h-1zM1619 393h5v55h-5zM1620 394v53h3v-53zM1621 448h1v9h-1zM1626 364h5v27h-5zM1628 358h1v6h-1zM1628 391h1v30h-1zM1638 426h5v78h-5zM1639 427v76h3v-76zM1640 412h1v14h-1zM1640 504h1v5h-1zM1664 491h5v1h-5zM1666 464h1v27h-1zM1666 492h1v6h-1zM1670 460h5v30h-5zM1671 461v28h3v-28zM1672 458h1v2h-1zM1672 490h1v4h-1zM1676 456h5v4h-5zM1677 457v2h3v-2zM1678 443h1v13h-1zM1678 460h1v20h-1zM1689 482h5v10h-5zM1690 483v8h3v-8zM1691 478h1v4h-1zM1691 492h1v3h-1zM1702 506h5v22h-5zM1703 507v20h3v-20zM1704 503h1v3h-1zM1704 528h1v2h-1zM1721 548h5v8h-5zM1722 549v6h3v-6zM1723 539h1v9h-1zM1723 556h1v8h-1zM1740 572h5v5h-5zM1741 573v3h3v-3zM1742 550h1v22h-1zM1742 577h1v6h-1zM1752 561h5v3h-5zM1754 538h1v23h-1zM1754 564h1v11h-1zM1759 539h5v12h-5zM1760 540v10h3v-10zM1761 537h1v2h-1zM1761 551h1v1h-1zM1765 529h5v13h-5zM1766 530v11h3v-11zM1767 528h1v1h-1zM1767 542h1v2h-1zM1771 518h5v11h-5zM1772 519v9h3v-9zM1773 516h1v2h-1zM1773 529h1v19h-1zM1784 532h5v14h-5zM1786 527h1v5h-1zM1786 546h1v3h-1zM1790 484h5v60h-5zM1791 485v58h3v-58zM1792 482h1v2h-1zM1797 466h5v12h-5zM1798 467v10h3v-10zM1799 478h1v26h-1zM1809 469h5v17h-5zM1810 470v15h3v-15zM1811 458h1v11h-1zM1811 486h1v2h-1zM1822 501h5v4h-5zM1823 502v2h3v-2zM1824 486h1v15h-1zM1824 505h1v12h-1zM1828 494h5v2h-5zM1830 471h1v23h-1zM1830 496h1v4h-1zM1854 529h5v7h-5zM1855 530v5h3v-5zM1856 509h1v20h-1zM1856 536h1v10h-1zM1860 516h5v29h-5zM1861 517v27h3v-27zM1862 501h1v15h-1zM1862 545h1v7h-1zM1866 497h5v11h-5zM1868 471h1v26h-1zM1868 508h1v4h-1zM1873 501h5v4h-5zM1875 491h1v10h-1zM1875 505h1v23h-1zM1879 494h5v8h-5zM1881 474h1v20h-1zM1885 443h5v59h-5zM1886 444v57h3v-57zM1887 428h1v15h-1zM1887 502h1v10h-1zM1892 420h5v15h-5zM1894 412h1v8h-1zM1894 435h1v22h-1zM1898 408h5v21h-5zM1899 409v19h3v-19zM1900 397h1v11h-1zM1900 429h1v14h-1zM1904 390h5v5h-5zM1906 361h1v29h-1zM1906 395h1v8h-1zM1923 466h5v1h-5zM1925 442h1v24h-1zM1925 467h1v10h-1zM1930 434h5v30h-5zM1931 435v28h3v-28zM1932 420h1v14h-1zM1932 464h1v6h-1zM1936 405h5v14h-5zM1937 406v12h3v-12zM1938 403h1v2h-1zM1938 419h1v10h-1zM1955 405h5v47h-5zM1956 406v45h3v-45zM1957 399h1v6h-1zM1957 452h1v8h-1zM1961 394h5v10h-5zM1962 395v8h3v-8zM1963 377h1v17h-1zM1963 404h1v5h-1zM1968 336h5v46h-5zM1969 337v44h3v-44zM1970 330h1v6h-1zM1970 382h1v3h-1zM1987 364h5v11h-5zM1988 365v9h3v-9zM1989 354h1v10h-1zM1989 375h1v12h-1zM1999 367h5v15h-5zM2000 368v13h3v-13zM2001 355h1v12h-1zM2001 382h1v21h-1zM2018 402h5v20h-5zM2019 403v18h3v-18zM2020 396h1v6h-1zM2020 422h1v7h-1zM2025 400h5v1h-5zM2027 387h1v13h-1zM2027 401h1v19h-1zM2037 371h5v33h-5zM2038 372v31h3v-31zM2039 353h1v18h-1zM2039 404h1v11h-1zM2044 339h5v23h-5zM2045 340v21h3v-21zM2046 322h1v17h-1zM2046 362h1v1h-1zM2050 336h5v8h-5zM2051 337v6h3v-6zM2052 320h1v16h-1zM2052 344h1v7h-1zM2063 294h5v36h-5zM2064 295v34h3v-34zM2065 285h1v9h-1zM2065 330h1v4h-1zM2069 284h5v8h-5zM2070 285v6h3v-6zM2071 274h1v10h-1zM2071 292h1v21h-1zM2082 288h5v4h-5zM2084 280h1v8h-1zM2084 292h1v7h-1zM2094 292h5v13h-5zM2095 293v11h3v-11zM2096 265h1v27h-1zM2096 305h1v6h-1zM2101 282h5v6h-5zM2102 283v4h3v-4zM2103 270h1v12h-1zM2103 288h1v4h-1zM2107 226h5v54h-5zM2108 227v52h3v-52zM2109 216h1v10h-1zM2109 280h1v2h-1zM2113 205h5v24h-5zM2114 206v22h3v-22zM2115 195h1v10h-1zM2115 229h1v1h-1zM2126 205h5v17h-5zM2127 206v15h3v-15zM2128 196h1v9h-1zM2128 222h1v8h-1zM2132 202h5v4h-5zM2133 203v2h3v-2zM2134 194h1v8h-1zM2134 206h1v12h-1zM2139 196h5v4h-5zM2140 197v2h3v-2zM2141 182h1v14h-1zM2141 200h1v10h-1zM2145 151h5v37h-5zM2146 152v35h3v-35zM2147 147h1v4h-1zM2147 188h1v8h-1zM2151 149h5v3h-5zM2152 150v1h3v-1zM2153 137h1v12h-1zM2153 152h1v19h-1zM2177 206h5v18h-5zM2179 201h1v5h-1zM2179 224h1v9h-1zM2183 190h5v22h-5zM2184 191v20h3v-20zM2185 183h1v7h-1zM2185 212h1v7h-1zM2208 275h5v23h-5zM2209 276v21h3v-21zM2210 261h1v14h-1zM2210 298h1v15h-1zM2215 238h5v23h-5zM2216 239v21h3v-21zM2217 212h1v26h-1zM2217 261h1v1h-1zM2221 225h5v13h-5zM2222 226v11h3v-11zM2223 219h1v6h-1zM2223 238h1v11h-1zM2240 259h5v29h-5zM2241 260v27h3v-27zM2242 248h1v11h-1zM2242 288h1v8h-1zM2272 278h5v2h-5zM2274 270h1v8h-1zM2274 280h1v14h-1zM2310 344h5v2h-5zM2312 333h1v11h-1zM2312 346h1v6h-1zM2316 344h5v2h-5zM2318 340h1v4h-1zM2318 346h1v5h-1zM2322 324h5v22h-5zM2323 325v20h3v-20zM2324 320h1v4h-1zM2324 346h1v5h-1zM2329 284h5v30h-5zM2330 285v28h3v-28zM2331 280h1v4h-1zM2331 314h1v1h-1zM2348 256h5v48h-5zM2349 257v46h3v-46zM2350 217h1v39h-1zM2350 304h1v36h-1zM2373 341h5v17h-5zM2375 338h1v3h-1zM2375 358h1v10h-1zM2386 388h5v3h-5zM2387 389v1h3v-1zM2388 372h1v16h-1zM2392 375h5v6h-5zM2394 353h1v22h-1zM2394 381h1v4h-1zM2398 368h5v4h-5zM2399 369v2h3v-2zM2400 357h1v11h-1zM2400 372h1v15h-1z"/>
<path fill="#ef5350" fill-rule="evenodd" d="M-2 1144h5v45h-5zM0 1134h1v10h-1zM0 1189h1v13h-1zM4 1185h5v12h-5zM6 1182h1v3h-1zM6 1197h1v2h-1zM17 1211h5v1h-5zM19 1209h1v2h-1zM19 1212h1v15h-1zM36 1195h5v32h-5zM38 1227h1v6h-1zM49 1226h5v16h-5zM51 1225h1v1h-1zM51 1242h1v7h-1zM61 1211h5v5h-5zM63 1205h1v6h-1zM63 1216h1v5h-1zM112 1147h5v11h-5zM114 1158h1v7h-1zM118 1157h5v23h-5zM120 1180h1v6h-1zM131 1169h5v5h-5zM133 1168h1v1h-1zM133 1174h1v6h-1zM156 1162h5v32h-5zM158 1194h1v7h-1zM163 1185h5v10h-5zM165 1182h1v3h-1zM165 1195h1v7h-1zM169 1199h5v13h-5zM171 1198h1v1h-1zM182 1199h5v8h-5zM184 1197h1v2h-1zM184 1207h1v2h-1zM201 1198h5v6h-5zM203 1189h1v9h-1zM203 1204h1v4h-1zM207 1205h5v9h-5zM209 1204h1v1h-1zM209 1214h1v4h-1zM232 1191h5v10h-5zM234 1190h1v1h-1zM234 1201h1v5h-1zM239 1202h5v15h-5zM241 1189h1v13h-1zM241 1217h1v5h-1zM251 1221h5v4h-5zM253 1218h1v3h-1zM253 1225h1v3h-1zM264 1189h5v10h-5zM266 1186h1v3h-1zM266 1199h1v10h-1zM296 1169h5v29h-5zM298 1164h1v5h-1zM298 1198h1v3h-1zM302 1191h5v13h-5zM304 1204h1v6h-1zM334 1180h5v11h-5zM336 1179h1v1h-1zM336 1191h1v2h-1zM340 1190h5v2h-5zM342 1188h1v2h-1zM342 1192h1v5h-1zM346 1189h5v11h-5zM348 1187h1v2h-1zM353 1198h5v28h-5zM355 1226h1v2h-1zM365 1205h5v20h-5zM367 1225h1v3h-1zM372 1220h5v11h-5zM374 1218h1v2h-1zM374 1231h1v3h-1zM384 1225h5v7h-5zM386 1223h1v2h-1zM386 1232h1v5h-1zM397 1221h5v4h-5zM399 1219h1v2h-1zM399 1225h1v3h-1zM403 1225h5v13h-5zM405 1238h1v2h-1zM410 1237h5v1h-5zM412 1234h1v3h-1zM412 1238h1v5h-1zM448 1188h5v4h-5zM450 1183h1v5h-1zM450 1192h1v8h-1zM460 1185h5v6h-5zM461 1186v4h3v-4zM462 1172h1v13h-1zM462 1191h1v2h-1zM467 1177h5v3h-5zM469 1180h1v9h-1zM479 1153h5v7h-5zM481 1146h1v7h-1zM486 1156h5v13h-5zM488 1154h1v2h-1zM498 1110h5v2h-5zM500 1096h1v14h-1zM500 1112h1v6h-1zM524 1061h5v8h-5zM526 1057h1v4h-1zM526 1069h1v13h-1zM530 1070h5v9h-5zM532 1068h1v2h-1zM532 1079h1v18h-1zM536 1067h5v14h-5zM538 1081h1v7h-1zM543 1078h5v10h-5zM545 1077h1v1h-1zM545 1088h1v5h-1zM562 1047h5v12h-5zM564 1041h1v6h-1zM564 1059h1v2h-1zM581 1019h5v22h-5zM583 1003h1v16h-1zM612 993h5v13h-5zM614 991h1v2h-1zM614 1006h1v1h-1zM625 976h5v13h-5zM627 972h1v4h-1zM627 989h1v3h-1zM638 953h5v9h-5zM639 954v7h3v-7zM640 943h1v10h-1zM640 962h1v4h-1zM657 890h5v31h-5zM659 921h1v2h-1zM669 874h5v17h-5zM671 866h1v8h-1zM671 891h1v28h-1zM682 919h5v12h-5zM684 896h1v23h-1zM684 931h1v5h-1zM688 931h5v51h-5zM690 922h1v9h-1zM690 982h1v22h-1zM695 968h5v30h-5zM697 956h1v12h-1zM739 905h5v15h-5zM741 897h1v8h-1zM758 890h5v12h-5zM760 873h1v17h-1zM760 902h1v5h-1zM771 896h5v22h-5zM773 881h1v15h-1zM773 918h1v9h-1zM790 913h5v11h-5zM792 911h1v2h-1zM792 924h1v1h-1zM796 932h5v16h-5zM798 930h1v2h-1zM798 948h1v15h-1zM809 939h5v7h-5zM810 940v5h3v-5zM811 928h1v11h-1zM811 946h1v1h-1zM821 912h5v20h-5zM823 909h1v3h-1zM823 932h1v3h-1zM834 891h5v29h-5zM836 883h1v8h-1zM836 920h1v4h-1zM853 908h5v4h-5zM854 909v2h3v-2zM855 899h1v9h-1zM859 937h5v27h-5zM861 926h1v11h-1zM861 964h1v5h-1zM866 955h5v11h-5zM868 948h1v7h-1zM868 966h1v29h-1zM872 967h5v19h-5zM874 957h1v10h-1zM874 986h1v12h-1zM878 1006h5v21h-5zM880 1027h1v7h-1zM885 1034h5v64h-5zM886 1035v62h3v-62zM887 1023h1v11h-1zM891 1047h5v44h-5zM893 1041h1v6h-1zM893 1091h1v14h-1zM897 1093h5v3h-5zM899 1071h1v22h-1zM899 1096h1v27h-1zM904 1093h5v35h-5zM906 1073h1v20h-1zM906 1128h1v9h-1zM910 1117h5v26h-5zM912 1113h1v4h-1zM912 1143h1v25h-1zM923 1131h5v14h-5zM925 1120h1v11h-1zM925 1145h1v6h-1zM942 1080h5v8h-5zM944 1073h1v7h-1zM944 1088h1v8h-1zM948 1088h5v12h-5zM950 1085h1v3h-1zM950 1100h1v8h-1zM954 1102h5v10h-5zM955 1103v8h3v-8zM956 1084h1v18h-1zM956 1112h1v2h-1zM967 1077h5v14h-5zM969 1060h1v17h-1zM969 1091h1v14h-1zM980 1075h5v11h-5zM982 1074h1v1h-1zM982 1086h1v8h-1zM992 1061h5v10h-5zM994 1051h1v10h-1zM994 1071h1v26h-1zM999 1083h5v9h-5zM1001 1078h1v5h-1zM1001 1092h1v11h-1zM1005 1089h5v7h-5zM1007 1084h1v5h-1zM1007 1096h1v6h-1zM1024 1070h5v5h-5zM1026 1067h1v3h-1zM1026 1075h1v10h-1zM1030 1062h5v14h-5zM1032 1055h1v7h-1zM1032 1076h1v6h-1zM1037 1070h5v11h-5zM1039 1068h1v2h-1zM1039 1081h1v7h-1zM1043 1086h5v16h-5zM1045 1081h1v5h-1zM1045 1102h1v7h-1zM1062 1090h5v16h-5zM1081 1084h5v7h-5zM1083 1080h1v4h-1zM1083 1091h1v3h-1zM1087 1105h5v3h-5zM1088 1106v1h3v-1zM1089 1102h1v3h-1zM1089 1108h1v4h-1zM1106 1074h5v4h-5zM1108 1064h1v10h-1zM1170 909h5v16h-5zM1172 891h1v18h-1zM1172 925h1v10h-1zM1176 936h5v41h-5zM1178 977h1v4h-1zM1195 940h5v23h-5zM1197 932h1v8h-1zM1197 963h1v8h-1zM1201 967h5v12h-5zM1203 962h1v5h-1zM1203 979h1v17h-1zM1233 906h5v21h-5zM1235 927h1v9h-1zM1246 901h5v15h-5zM1248 880h1v21h-1zM1248 916h1v4h-1zM1265 897h5v21h-5zM1267 889h1v8h-1zM1267 918h1v2h-1zM1271 918h5v23h-5zM1272 919v21h3v-21zM1273 941h1v8h-1zM1277 926h5v14h-5zM1279 916h1v10h-1zM1279 940h1v7h-1zM1290 912h5v25h-5zM1292 937h1v7h-1zM1309 920h5v12h-5zM1311 909h1v11h-1zM1311 932h1v4h-1zM1328 866h5v23h-5zM1330 852h1v14h-1zM1334 889h5v18h-5zM1336 880h1v9h-1zM1336 907h1v6h-1zM1341 906h5v11h-5zM1343 902h1v4h-1zM1343 917h1v12h-1zM1366 788h5v22h-5zM1368 771h1v17h-1zM1368 810h1v4h-1zM1398 717h5v13h-5zM1400 716h1v1h-1zM1400 730h1v30h-1zM1404 717h5v16h-5zM1406 704h1v13h-1zM1406 733h1v21h-1zM1410 734h5v61h-5zM1412 732h1v2h-1zM1412 795h1v2h-1zM1436 729h5v38h-5zM1438 714h1v15h-1zM1438 767h1v3h-1zM1442 768h5v7h-5zM1444 762h1v6h-1zM1444 775h1v5h-1zM1448 775h5v19h-5zM1450 761h1v14h-1zM1450 794h1v5h-1zM1455 783h5v34h-5zM1457 775h1v8h-1zM1457 817h1v12h-1zM1474 798h5v13h-5zM1476 784h1v14h-1zM1512 754h5v22h-5zM1514 750h1v4h-1zM1514 776h1v23h-1zM1518 788h5v4h-5zM1520 783h1v5h-1zM1520 792h1v7h-1zM1524 784h5v14h-5zM1526 779h1v5h-1zM1526 798h1v8h-1zM1575 643h5v11h-5zM1577 634h1v9h-1zM1577 654h1v14h-1zM1588 639h5v17h-5zM1590 634h1v5h-1zM1590 656h1v11h-1zM1632 397h5v49h-5zM1634 388h1v9h-1zM1634 446h1v11h-1zM1645 432h5v6h-5zM1647 411h1v21h-1zM1647 438h1v16h-1zM1651 426h5v69h-5zM1653 420h1v6h-1zM1653 495h1v21h-1zM1657 504h5v12h-5zM1658 505v10h3v-10zM1659 486h1v18h-1zM1659 516h1v29h-1zM1683 470h5v22h-5zM1685 468h1v2h-1zM1685 492h1v3h-1zM1695 489h5v43h-5zM1697 486h1v3h-1zM1697 532h1v5h-1zM1708 501h5v58h-5zM1710 497h1v4h-1zM1714 556h5v8h-5zM1716 534h1v22h-1zM1716 564h1v6h-1zM1727 559h5v28h-5zM1729 587h1v2h-1zM1733 574h5v18h-5zM1735 569h1v5h-1zM1735 592h1v12h-1zM1746 550h5v29h-5zM1748 579h1v2h-1zM1778 525h5v23h-5zM1780 522h1v3h-1zM1780 548h1v22h-1zM1803 474h5v18h-5zM1805 456h1v18h-1zM1805 492h1v6h-1zM1816 458h5v44h-5zM1818 445h1v13h-1zM1818 502h1v2h-1zM1835 496h5v1h-5zM1837 484h1v12h-1zM1837 497h1v17h-1zM1841 496h5v18h-5zM1843 489h1v7h-1zM1843 514h1v10h-1zM1847 534h5v6h-5zM1849 516h1v18h-1zM1849 540h1v4h-1zM1911 405h5v23h-5zM1913 402h1v3h-1zM1913 428h1v21h-1zM1917 445h5v48h-5zM1919 431h1v14h-1zM1919 493h1v5h-1zM1942 406h5v34h-5zM1944 440h1v14h-1zM1949 432h5v11h-5zM1951 423h1v9h-1zM1951 443h1v11h-1zM1974 314h5v34h-5zM1976 348h1v21h-1zM1980 367h5v11h-5zM1982 336h1v31h-1zM1982 378h1v13h-1zM1993 364h5v17h-5zM1995 361h1v3h-1zM1995 381h1v4h-1zM2006 360h5v18h-5zM2008 358h1v2h-1zM2008 378h1v10h-1zM2012 432h5v18h-5zM2013 433v16h3v-16zM2014 417h1v15h-1zM2014 450h1v22h-1zM2031 391h5v16h-5zM2033 387h1v4h-1zM2033 407h1v11h-1zM2056 325h5v13h-5zM2058 304h1v21h-1zM2058 338h1v4h-1zM2075 274h5v18h-5zM2077 292h1v14h-1zM2088 288h5v17h-5zM2090 283h1v5h-1zM2090 305h1v6h-1zM2120 207h5v37h-5zM2122 183h1v24h-1zM2122 244h1v7h-1zM2158 141h5v40h-5zM2160 181h1v25h-1zM2164 177h5v48h-5zM2166 175h1v2h-1zM2166 225h1v15h-1zM2170 217h5v9h-5zM2172 191h1v26h-1zM2172 226h1v10h-1zM2189 188h5v14h-5zM2191 178h1v10h-1zM2191 202h1v13h-1zM2196 194h5v16h-5zM2198 186h1v8h-1zM2198 210h1v8h-1zM2202 292h5v6h-5zM2203 293v4h3v-4zM2204 260h1v32h-1zM2204 298h1v23h-1zM2227 236h5v14h-5zM2229 226h1v10h-1zM2229 250h1v4h-1zM2234 255h5v24h-5zM2236 247h1v8h-1zM2236 279h1v9h-1zM2246 264h5v3h-5zM2247 265v1h3v-1zM2248 235h1v29h-1zM2248 267h1v12h-1zM2253 256h5v29h-5zM2255 242h1v14h-1zM2259 292h5v5h-5zM2260 293v3h3v-3zM2261 263h1v29h-1zM2261 297h1v2h-1zM2265 273h5v21h-5zM2267 255h1v18h-1zM2278 260h5v21h-5zM2280 248h1v12h-1zM2280 281h1v3h-1zM2284 284h5v26h-5zM2286 281h1v3h-1zM2286 310h1v2h-1zM2291 312h5v26h-5zM2293 305h1v7h-1zM2293 338h1v33h-1zM2297 336h5v12h-5zM2299 325h1v11h-1zM2299 348h1v31h-1zM2303 348h5v4h-5zM2304 349v2h3v-2zM2305 325h1v23h-1zM2305 352h1v10h-1zM2335 285h5v7h-5zM2336 286v5h3v-5zM2337 278h1v7h-1zM2337 292h1v6h-1zM2341 277h5v28h-5zM2343 269h1v8h-1zM2343 305h1v5h-1zM2354 243h5v56h-5zM2356 241h1v2h-1zM2356 299h1v8h-1zM2360 321h5v2h-5zM2362 308h1v13h-1zM2362 323h1v6h-1zM2367 320h5v38h-5zM2369 305h1v15h-1zM2369 358h1v18h-1zM2379 383h5v20h-5zM2381 374h1v9h-1zM2381 403h1v4h-1zM2405 386h5v14h-5zM2407 380h1v6h-1zM2407 400h1v4h-1zM2411 426h5v3h-5zM2413 402h1v24h-1zM2413 429h1v23h-1zM2417 445h5v52h-5zM2419 436h1v9h-1zM2419 497h1v8h-1zM2424 509h5v6h-5zM2425 510v4h3v-4zM2426 479h1v30h-1zM2426 515h1v38h-1zM2430 482h5v33h-5zM2432 481h1v1h-1zM2432 515h1v8h-1z"/>
</g>
<g shape-rendering="crispEdges" fill="none">
<line x1="1" y1="282.5" x2="2471" y2="282.5" stroke="#758696" stroke-width="1" stroke-dasharray="5 6"/>
<line x1="640.5" y1="1" x2="640.5" y2="1358" stroke="#758696" stroke-width="1" stroke-dasharray="5 6"/>
<line x1="0" y1="515.5" x2="2452" y2="515.5" stroke="#ef5350" stroke-width="1" stroke-dasharray="1 2"/>
</g>
<g shape-rendering="crispEdges">
<rect x="2160.4" y="143" width="335.0" height="1" fill="#787b86"/>
<rect x="2160.4" y="245" width="335.0" height="1" fill="#64b5f6"/>
<rect x="2160.4" y="337" width="335.0" height="1" fill="#009688"/>
<rect x="2160.4" y="409" width="335.0" height="1" fill="#4caf50"/>
<rect x="2160.4" y="488" width="335.0" height="1" fill="#81c784"/>
<rect x="2160.4" y="600" width="335.0" height="1" fill="#f44336"/>
<rect x="2160.4" y="824" width="335.0" height="1" fill="#787b86"/>
</g>
<line x1="2160.5" y1="143.5" x2="2495.5" y2="824.5" stroke="#808080" stroke-width="1" stroke-dasharray="5 6"/>
<text x="2154.2" y="139.77" font-size="15" fill="#787b86" text-anchor="end" textLength="54.6" lengthAdjust="spacingAndGlyphs">1(35.60)</text>
<text x="2154.2" y="242.37" font-size="15" fill="#64b5f6" text-anchor="end" textLength="84.4" lengthAdjust="spacingAndGlyphs">0.786(31.10)</text>
<text x="2154.2" y="333.87" font-size="15" fill="#009688" text-anchor="end" textLength="83.8" lengthAdjust="spacingAndGlyphs">0.618(27.55)</text>
<text x="2154.2" y="404.97" font-size="15" fill="#4caf50" text-anchor="end" textLength="68.2" lengthAdjust="spacingAndGlyphs">0.5(25.05)</text>
<text x="2154.2" y="485.37" font-size="15" fill="#81c784" text-anchor="end" textLength="84" lengthAdjust="spacingAndGlyphs">0.382(22.55)</text>
<text x="2154.2" y="596.17" font-size="15" fill="#f44336" text-anchor="end" textLength="84" lengthAdjust="spacingAndGlyphs">0.236(19.50)</text>
<text x="2154.2" y="819.97" font-size="15" fill="#787b86" text-anchor="end" textLength="54.8" lengthAdjust="spacingAndGlyphs">0(14.50)</text>
</g>
<rect x="2452" y="505" width="105" height="21" rx="3" fill="#ef5350"/>
<text x="2459.6" y="520.6" font-size="15.8" fill="#fff" textLength="30.6" lengthAdjust="spacingAndGlyphs">1810</text>
<rect x="2498" y="515" width="6" height="1" fill="#fff"/>
<text x="2548.3" y="520.6" font-size="15.8" fill="#fff" text-anchor="end" textLength="37.4" lengthAdjust="spacingAndGlyphs">21.80</text>
<g clip-path="url(#plot)">
<g fill="none" stroke-width="10">
<path d="M629.05 882.54A49 64.44 0 0 1 678.05 818.1A49 64.44 0 0 1 727.05 882.54L727.05 996.16A49 64.44 0 0 1 678.05 1060.6A49 64.44 0 0 1 629.05 996.16Z" stroke="#3f44c9"/>
<path d="M1359.0 700.64A33.5 57.64 0 0 1 1392.5 643A33.5 57.64 0 0 1 1426.0 700.64L1426.0 807.36A33.5 57.64 0 0 1 1392.5 865A33.5 57.64 0 0 1 1359.0 807.36Z" stroke="#3f44c9"/>
<path d="M1592.6 403.08A39.7 50.08 0 0 1 1632.3 353.0A39.7 50.08 0 0 1 1672.0 403.08L1672.0 517.72A39.7 50.08 0 0 1 1632.3 567.8A39.7 50.08 0 0 1 1592.6 517.72Z" stroke="#3f44c9"/>
<path d="M2115.7999999999997 166.63A85.3 66.33 0 0 1 2201.1 100.30000000000001A85.3 66.33 0 0 1 2286.4 166.63L2286.4 321.17A85.3 66.33 0 0 1 2201.1 387.5A85.3 66.33 0 0 1 2115.7999999999997 321.17Z" stroke="#3f44c9"/>
<rect x="826" y="871" width="123" height="302" rx="18" stroke="#11d142"/>
<rect x="1445" y="724" width="64" height="136" rx="20" stroke="#11d142"/>
<rect x="1687" y="456" width="76.6" height="165" rx="18" stroke="#11d142"/>
<rect x="2319.2" y="229" width="143.7" height="329.75" rx="17.5" stroke="#11d142"/>
</g>
<circle cx="431.9" cy="1339.4" r="15.5" fill="#fff" stroke="#ef5f6e" stroke-width="1.4"/>
<text x="428.8" y="1343.9" font-size="16.3" fill="#ef5f6e" font-weight="bold" textLength="7" lengthAdjust="spacingAndGlyphs">E</text>
<circle cx="963.75" cy="1339.4" r="15.5" fill="#fff" stroke="#ef5f6e" stroke-width="1.4"/>
<text x="960.65" y="1343.9" font-size="16.3" fill="#ef5f6e" font-weight="bold" textLength="7" lengthAdjust="spacingAndGlyphs">E</text>
<circle cx="1166.25" cy="1339.4" r="15.5" fill="#fff" stroke="#ef5f6e" stroke-width="1.4"/>
<text x="1163.15" y="1343.9" font-size="16.3" fill="#ef5f6e" font-weight="bold" textLength="7" lengthAdjust="spacingAndGlyphs">E</text>
<circle cx="1597.5" cy="1339.4" r="15.5" fill="#fff" stroke="#ef5f6e" stroke-width="1.4"/>
<text x="1594.4" y="1343.9" font-size="16.3" fill="#ef5f6e" font-weight="bold" textLength="7" lengthAdjust="spacingAndGlyphs">E</text>
<circle cx="1977.25" cy="1339.4" r="15.5" fill="#fff" stroke="#ef5f6e" stroke-width="1.4"/>
<text x="1974.15" y="1343.9" font-size="16.3" fill="#ef5f6e" font-weight="bold" textLength="7" lengthAdjust="spacingAndGlyphs">E</text>
<circle cx="2490" cy="1339.4" r="15.5" fill="#fff" stroke="#ef5f6e" stroke-width="1.4"/>
<text x="2486.9" y="1343.9" font-size="16.3" fill="#ef5f6e" font-weight="bold" textLength="7" lengthAdjust="spacingAndGlyphs">E</text>
<circle cx="29" cy="1329.4" r="20.6" fill="#fff" stroke="#e3e3e3" stroke-width="1.3"/>
<path fill="#36a2eb" d="M18.8 1336.25C16.5 1336.25 15.9 1334.5 15.9 1332.5C15.9 1329.5 17.8 1327.2 20.8 1326.6C21.3 1323.3 24 1320.8 27.3 1320.8C30 1320.8 32.2 1322.3 33.2 1324.6C34 1324.3 35 1324.2 36 1324.4C38.5 1324.8 40 1326.3 40.4 1328.2C42 1329 43.1 1330.6 43.1 1332.4C43.1 1334.6 41.8 1336.25 40.3 1336.25Z"/>
<path fill="none" stroke="#fff" stroke-width="1.4" d="M16.3 1333.7L25.9 1326L32.8 1332.8L40.6 1325.6"/>
<circle cx="25.9" cy="1326" r="1.9" fill="#fff"/><circle cx="32.8" cy="1332.8" r="1.9" fill="#fff"/>
</g>
<rect x="596.5" y="1358" width="87.5" height="29.5" rx="2.5" fill="#131722"/>
<rect x="596.5" y="1358" width="87.5" height="5" fill="#131722"/>
<rect x="640" y="1358" width="1" height="5" fill="#fff" opacity=".7"/>
<text x="640.4" y="1380.7" font-size="15" fill="#fff" text-anchor="middle" font-weight="bold" textLength="65.6" lengthAdjust="spacingAndGlyphs">16 Jan '20</text>
<rect x="2471" y="269" width="86" height="27" rx="3" fill="#131722"/>
<circle cx="2484.4" cy="282.5" r="9.6" fill="none" stroke="#d1d4dc" stroke-width="1"/>
<path d="M2480 282.5h9M2484.5 278v9" stroke="#fff" stroke-width="1.7" fill="none"/>
<rect x="2498" y="282" width="6" height="1" fill="#fff"/>
<text x="2548.2" y="287.8" font-size="15.8" fill="#fff" text-anchor="end" textLength="37.2" lengthAdjust="spacingAndGlyphs" stroke="#fff" stroke-width="0.35">29.65</text>
<rect x="2509.5" y="9.5" width="39" height="22" rx="4" fill="#fff" stroke="#d1d4dc" stroke-width="1"/>
<text x="2529.4" y="25.79" font-size="14.5" fill="#131722" text-anchor="middle" textLength="26.8" lengthAdjust="spacingAndGlyphs">HKD</text>
<g stroke="#131722" stroke-width="1.5" fill="none" stroke-linecap="round"><circle cx="2529.5" cy="1375.8" r="6.3"/><line x1="2537.10" y1="1375.80" x2="2538.80" y2="1375.80"/><line x1="2534.87" y1="1381.17" x2="2536.08" y2="1382.38"/><line x1="2529.50" y1="1383.40" x2="2529.50" y2="1385.10"/><line x1="2524.13" y1="1381.17" x2="2522.92" y2="1382.38"/><line x1="2521.90" y1="1375.80" x2="2520.20" y2="1375.80"/><line x1="2524.13" y1="1370.43" x2="2522.92" y2="1369.22"/><line x1="2529.50" y1="1368.20" x2="2529.50" y2="1366.50"/><line x1="2534.87" y1="1370.43" x2="2536.08" y2="1369.22"/></g>
<g fill="#fff" opacity="0.92"><rect x="0" y="9" width="633" height="26"/><rect x="0" y="40" width="183" height="32"/><rect x="0" y="79" width="118" height="25"/></g>
<text x="12" y="28.8" font-size="18.8" fill="#131722" textLength="184" lengthAdjust="spacingAndGlyphs">XIAOMI-W<tspan fill="#b2b5be" font-weight="bold"> · </tspan>1D<tspan fill="#b2b5be" font-weight="bold"> · </tspan>HKEX</text>
<path d="M226.5 10H240V33H226.5a11.5 11.5 0 0 1 0-23z" fill="#f0f3fa"/>
<path d="M240 10h13.5a11.5 11.5 0 0 1 0 23H240z" fill="#fff3e0"/>
<rect x="223.3" y="19.2" width="12" height="4.6" rx="2.3" fill="#9598a1"/>
<text x="247.6" y="26.8" font-size="15.5" fill="#f57c00" font-weight="bold" textLength="9.2" lengthAdjust="spacingAndGlyphs">D</text>
<text x="285.8" y="28.7" font-size="15.5" fill="#50535e">O</text>
<text x="298.6" y="28.7" font-size="15.5" fill="#ef5350" textLength="38.3" lengthAdjust="spacingAndGlyphs">12.10</text>
<text x="345.9" y="28.7" font-size="15.5" fill="#50535e">H</text>
<text x="358.2" y="28.7" font-size="15.5" fill="#ef5350" textLength="38.3" lengthAdjust="spacingAndGlyphs">12.40</text>
<text x="405.5" y="28.7" font-size="15.5" fill="#50535e">L</text>
<text x="415.6" y="28.7" font-size="15.5" fill="#ef5350" textLength="37.8" lengthAdjust="spacingAndGlyphs">12.05</text>
<text x="462.1" y="28.7" font-size="15.5" fill="#50535e">C</text>
<text x="473.6" y="28.7" font-size="15.5" fill="#ef5350" textLength="38.3" lengthAdjust="spacingAndGlyphs">12.20</text>
<text x="520.9" y="28.7" font-size="15.5" fill="#ef5350" textLength="38.3" lengthAdjust="spacingAndGlyphs">−0.05</text>
<text x="566" y="28.7" font-size="15.5" fill="#ef5350" textLength="60.2" lengthAdjust="spacingAndGlyphs">(−0.33%)</text>
<rect x="10.5" y="41.5" width="59.5" height="29" rx="4" fill="#fff" stroke="#ef5350" stroke-width="1"/>
<text x="20.4" y="62.23" font-size="16" fill="#ef5350" textLength="39.4" lengthAdjust="spacingAndGlyphs">21.75</text>
<text x="79.9" y="61.32" font-size="13.75" fill="#5d606b" textLength="26.6" lengthAdjust="spacingAndGlyphs">0.05</text>
<rect x="117.5" y="41.5" width="59.5" height="29" rx="4" fill="#fff" stroke="#2196f3" stroke-width="1"/>
<text x="127" y="62.23" font-size="16" fill="#2196f3" textLength="39.7" lengthAdjust="spacingAndGlyphs">21.80</text>
<text x="12" y="96.8" font-size="15" fill="#131722" textLength="20.6" lengthAdjust="spacingAndGlyphs">Vol</text>
<text x="43.6" y="96.8" font-size="15" fill="#26a69a" textLength="68.2" lengthAdjust="spacingAndGlyphs">223.206M</text>
<text x="20.6" y="1422.0" font-size="18" fill="#131722" textLength="19.4" lengthAdjust="spacingAndGlyphs">1D</text>
<text x="58.1" y="1422.0" font-size="18" fill="#131722" textLength="18.8" lengthAdjust="spacingAndGlyphs">5D</text>
<text x="95.6" y="1422.0" font-size="18" fill="#131722" textLength="21" lengthAdjust="spacingAndGlyphs">1M</text>
<text x="134.6" y="1422.0" font-size="18" fill="#131722" textLength="21" lengthAdjust="spacingAndGlyphs">3M</text>
<text x="173.4" y="1422.0" font-size="18" fill="#131722" textLength="21.6" lengthAdjust="spacingAndGlyphs">6M</text>
<text x="212.8" y="1422.0" font-size="18" fill="#131722" textLength="30" lengthAdjust="spacingAndGlyphs">YTD</text>
<text x="261.6" y="1422.0" font-size="18" fill="#131722" textLength="17.8" lengthAdjust="spacingAndGlyphs">1Y</text>
<text x="298" y="1422.0" font-size="18" fill="#131722" textLength="18" lengthAdjust="spacingAndGlyphs">5Y</text>
<text x="334" y="1422.0" font-size="18" fill="#131722" textLength="29.75" lengthAdjust="spacingAndGlyphs">Alle</text>
<rect x="384" y="1403" width="1" height="32" fill="#e0e3eb"/>
<rect x="2361" y="1403" width="1" height="27" fill="#e0e3eb"/>
<g fill="none" stroke="#131722" stroke-width="1.4" stroke-linecap="round" stroke-linejoin="round"><path d="M411 1425.3H423a3 3 0 0 0 3-3V1411.5a3 3 0 0 0-3-3H410.5a3 3 0 0 0-3 3V1414"/><path d="M407.5 1413.5H426M412.6 1406.3v3.6M420.8 1406.3v3.6"/><path d="M405.2 1420.4H415M411.6 1416.6l3.8 3.8-3.8 3.8"/></g>
<text x="2205" y="1422.0" font-size="18" fill="#131722" textLength="134.7" lengthAdjust="spacingAndGlyphs">11:58:56 (UTC+1)</text>
<text x="2381.9" y="1422.0" font-size="18" fill="#131722" textLength="34.4" lengthAdjust="spacingAndGlyphs">Anp.</text>
<text x="2435.8" y="1422.0" font-size="18" fill="#131722" textLength="16.4" lengthAdjust="spacingAndGlyphs">%</text>
<text x="2471" y="1422.0" font-size="18" fill="#2196f3" textLength="22.6" lengthAdjust="spacingAndGlyphs">log</text>
<text x="2511.6" y="1422.0" font-size="18" fill="#2196f3" textLength="34.4" lengthAdjust="spacingAndGlyphs">auto</text>
</svg>
</body></html>
